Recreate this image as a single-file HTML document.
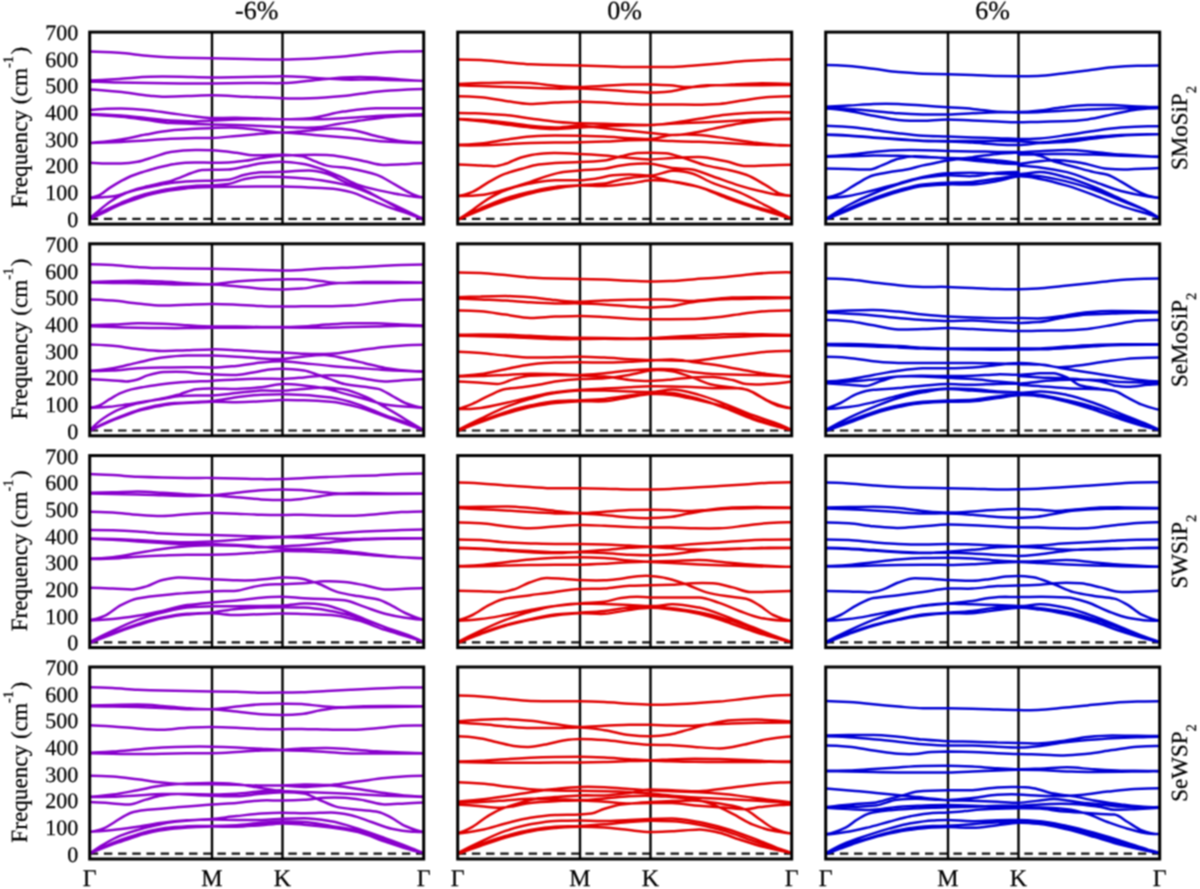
<!DOCTYPE html>
<html><head><meta charset="utf-8"><style>
html,body{margin:0;padding:0;background:#fff;width:1200px;height:889px;overflow:hidden}
svg{display:block}
text{font-family:"Liberation Serif",serif;fill:#000;stroke:#000;stroke-width:0.25px;text-rendering:geometricPrecision}
</style></head><body>
<svg width="1200" height="889" viewBox="0 0 1200 889">
<defs><filter id="bl" x="0" y="0" width="1200" height="889" filterUnits="userSpaceOnUse" color-interpolation-filters="sRGB"><feConvolveMatrix order="3" kernelMatrix="1 2 1 2 4 2 1 2 1" divisor="16" edgeMode="duplicate"/></filter><clipPath id="k00"><rect x="89.7" y="32.1" width="334.0" height="192.0"/></clipPath><clipPath id="k01"><rect x="457.7" y="32.1" width="334.0" height="192.0"/></clipPath><clipPath id="k02"><rect x="825.7" y="32.1" width="334.0" height="192.0"/></clipPath><clipPath id="k10"><rect x="89.7" y="243.8" width="334.0" height="192.0"/></clipPath><clipPath id="k11"><rect x="457.7" y="243.8" width="334.0" height="192.0"/></clipPath><clipPath id="k12"><rect x="825.7" y="243.8" width="334.0" height="192.0"/></clipPath><clipPath id="k20"><rect x="89.7" y="455.6" width="334.0" height="192.0"/></clipPath><clipPath id="k21"><rect x="457.7" y="455.6" width="334.0" height="192.0"/></clipPath><clipPath id="k22"><rect x="825.7" y="455.6" width="334.0" height="192.0"/></clipPath><clipPath id="k30"><rect x="89.7" y="667.0" width="334.0" height="192.0"/></clipPath><clipPath id="k31"><rect x="457.7" y="667.0" width="334.0" height="192.0"/></clipPath><clipPath id="k32"><rect x="825.7" y="667.0" width="334.0" height="192.0"/></clipPath></defs>
<g filter="url(#bl)"><rect width="1200" height="889" fill="#fff"/>
<line x1="89.7" y1="218.8" x2="423.7" y2="218.8" stroke="#111" stroke-width="2.2" stroke-dasharray="8.44 5.75"/>
<line x1="212.0" y1="32.1" x2="212.0" y2="224.1" stroke="#000" stroke-width="2.4"/>
<line x1="282.5" y1="32.1" x2="282.5" y2="224.1" stroke="#000" stroke-width="2.4"/>
<g clip-path="url(#k00)" fill="none" stroke="#8800cc" stroke-width="2.5" stroke-linejoin="round" stroke-linecap="round"><path d="M89.8 51.4C99.5 51.5 109.2 52.0 118.9 52.7C129.2 53.4 139.4 55.2 149.7 56.0C160.0 56.8 170.3 57.6 180.6 57.8C191.0 58.0 201.5 58.0 211.9 58.2C223.5 58.5 235.1 58.9 246.7 59.1C258.7 59.3 270.6 59.5 282.5 59.5C291.7 59.5 300.9 59.1 310.1 58.7C321.1 58.2 332.1 57.3 343.1 56.5C354.2 55.6 365.2 54.0 376.2 53.1C384.3 52.5 392.4 51.9 400.5 51.6C408.2 51.4 415.9 51.1 423.6 51.2M89.8 80.5C99.5 80.1 109.2 79.5 118.9 78.9C129.2 78.3 139.4 76.9 149.7 76.7C160.0 76.5 170.3 76.6 180.6 76.7C191.0 76.9 201.5 77.4 211.9 77.4C223.5 77.4 235.1 77.1 246.7 77.0C258.7 76.8 270.6 76.4 282.5 76.3C291.7 76.2 300.9 76.9 310.1 77.4C321.1 78.0 332.1 79.4 343.1 79.6C354.2 79.9 365.2 79.4 376.2 79.6C384.3 79.8 392.4 80.1 400.5 80.3C408.2 80.4 415.9 80.6 423.6 80.7M89.8 81.4C99.5 81.8 109.2 82.3 118.9 82.5C129.2 82.7 139.4 82.8 149.7 82.9C160.0 83.1 170.3 83.3 180.6 83.4C191.0 83.4 201.5 83.4 211.9 83.4C223.5 83.3 235.1 83.0 246.7 82.9C258.7 82.8 270.6 83.3 282.5 83.1C291.7 83.0 300.9 81.6 310.1 80.7C321.1 79.7 332.1 78.0 343.1 77.4C354.2 76.8 365.2 76.8 376.2 77.4C384.3 77.8 392.4 79.0 400.5 79.6C408.2 80.2 415.9 80.8 423.6 81.1M89.8 89.5C99.5 89.9 109.2 90.8 118.9 91.7C129.2 92.7 139.4 94.7 149.7 95.7C154.9 96.2 160.0 96.9 165.2 96.8C172.5 96.7 179.9 96.4 187.2 96.1C195.4 95.9 203.7 95.2 211.9 95.3C223.5 95.3 235.1 96.3 246.7 96.8C258.7 97.3 270.6 98.0 282.5 98.3C291.7 98.6 300.9 98.5 310.1 98.3C321.1 98.1 332.1 97.2 343.1 96.1C354.2 95.1 365.2 92.8 376.2 91.7C384.3 91.0 392.4 90.3 400.5 90.0C408.2 89.6 415.9 89.2 423.6 89.1M89.7 109.9C100.1 109.1 110.6 108.5 121.0 108.5C129.3 108.6 137.5 109.1 145.8 109.9C154.0 110.6 162.3 112.1 170.5 113.2C178.8 114.3 187.0 115.5 195.3 116.5C200.8 117.1 206.4 118.0 211.9 118.1C220.1 118.2 228.3 117.6 236.5 117.8C244.8 117.9 253.0 118.2 261.3 118.4C268.4 118.7 275.4 119.1 282.5 119.3C291.7 119.5 300.9 118.9 310.1 118.2C321.1 117.3 332.1 113.1 343.1 111.6C354.2 110.1 365.2 108.3 376.2 108.3C384.3 108.3 392.4 108.3 400.5 108.3C408.2 108.3 415.9 108.3 423.6 108.3M89.7 114.0C100.1 114.2 110.6 114.9 121.0 115.6C129.3 116.2 137.5 117.3 145.8 118.1C154.0 118.9 162.3 120.0 170.5 120.6C178.8 121.1 187.0 121.6 195.3 121.4C200.8 121.3 206.4 120.8 211.9 120.6C220.1 120.2 228.3 119.5 236.5 119.4C244.8 119.3 253.0 119.3 261.3 119.3C268.4 119.3 275.4 119.3 282.5 119.3C291.7 119.3 300.9 119.3 310.1 119.3C321.1 119.3 332.1 118.7 343.1 118.2C354.2 117.7 365.2 116.6 376.2 116.0C384.3 115.5 392.4 115.2 400.5 114.9C408.2 114.6 415.9 114.3 423.6 114.2M89.7 114.8C100.1 115.1 110.6 115.9 121.0 116.8C129.3 117.5 137.5 118.7 145.8 119.8C154.0 120.8 162.3 122.6 170.5 123.1C178.8 123.5 187.0 123.6 195.3 123.9C200.8 124.0 206.4 124.2 211.9 124.4C220.1 124.6 228.3 124.8 236.5 125.0C244.8 125.3 253.0 125.7 261.3 126.0C268.4 126.3 275.4 126.8 282.5 127.1C293.2 127.5 303.8 127.9 314.5 127.5C322.8 127.2 331.1 125.0 339.4 123.7C347.8 122.5 356.1 121.1 364.4 120.0C372.7 118.8 381.0 117.5 389.4 116.9C400.8 116.1 412.2 115.6 423.6 115.6M89.7 142.9C100.1 142.4 110.6 141.1 121.0 139.6C129.3 138.4 137.5 136.1 145.8 134.6C154.0 133.1 162.3 131.2 170.5 130.5C178.8 129.7 187.0 129.3 195.3 128.8C200.8 128.5 206.4 128.2 211.9 128.0C220.1 127.7 228.3 127.4 236.5 127.7C244.8 127.9 253.0 129.6 261.3 130.5C268.4 131.2 275.4 132.4 282.5 132.5C289.0 132.6 295.5 131.8 302.0 131.2C310.3 130.6 318.6 129.3 326.9 128.7C335.3 128.2 343.6 128.9 351.9 130.0C360.2 131.0 368.6 134.4 376.9 136.2C385.2 138.1 393.5 140.3 401.9 141.2C409.1 142.0 416.3 142.5 423.6 142.5M89.7 142.9C100.1 142.8 110.6 142.5 121.0 142.0C129.3 141.7 137.5 140.9 145.8 140.4C154.0 139.8 162.3 139.1 170.5 138.7C178.8 138.3 187.0 138.1 195.3 137.9C200.8 137.8 206.4 138.1 211.9 137.9C220.1 137.7 228.3 136.6 236.5 135.9C244.8 135.2 253.0 134.4 261.3 133.8C268.4 133.2 275.4 132.4 282.5 132.5C293.2 132.6 303.8 134.1 314.5 135.0C326.9 136.0 339.4 137.0 351.9 138.1C364.4 139.2 376.9 141.1 389.4 141.8C400.8 142.5 412.2 143.1 423.6 143.1M89.7 162.7C100.1 163.4 110.6 163.7 121.0 163.5C126.5 163.4 132.0 162.8 137.5 161.8C143.0 160.9 148.5 158.5 154.0 156.9C159.5 155.2 165.0 152.7 170.5 151.9C178.8 150.7 187.0 150.0 195.3 150.0C200.8 149.9 206.4 150.0 211.9 150.3C220.1 150.7 228.3 151.8 236.5 152.8C242.0 153.4 247.5 154.9 253.0 155.2C262.9 155.7 272.7 154.6 282.5 154.7C289.0 154.8 295.5 155.2 302.0 156.2C306.1 156.8 310.3 159.6 314.5 161.2C318.6 162.7 322.8 164.7 326.9 165.6C335.3 167.4 343.6 167.2 351.9 168.7C360.2 170.2 368.6 172.0 376.9 174.9C383.1 177.1 389.4 181.6 395.6 184.9C401.9 188.3 408.1 192.5 414.3 194.9C417.4 196.1 420.5 197.1 423.6 197.4M89.7 197.7C92.8 197.7 95.8 196.8 98.8 195.5C102.4 194.0 106.1 190.2 109.7 187.9C113.3 185.6 116.9 183.4 120.5 181.4C124.1 179.5 127.7 177.5 131.3 176.0C134.9 174.5 138.6 173.4 142.2 172.2C145.8 171.1 149.4 169.9 153.0 169.0C156.6 168.0 160.2 167.1 163.8 166.3C167.5 165.5 171.1 164.6 174.7 164.1C178.3 163.5 181.9 163.0 185.5 162.8C189.1 162.6 192.7 162.4 196.3 162.5C201.5 162.5 206.8 162.7 212.0 162.7C217.4 162.8 222.8 162.6 228.3 162.4C233.8 162.3 239.3 161.5 244.8 160.8C250.3 160.1 255.8 158.7 261.3 158.0C268.4 157.0 275.4 156.0 282.5 155.6C289.0 155.3 295.5 155.1 302.0 155.0C310.3 154.8 318.6 154.8 326.9 155.0C333.2 155.1 339.4 156.4 345.7 157.5C351.9 158.5 358.2 159.9 364.4 161.2C370.6 162.4 376.9 164.8 383.1 164.9C389.4 165.1 395.6 164.6 401.9 164.3C409.1 163.9 416.3 163.6 423.6 163.1M89.7 198.2C94.6 197.9 99.4 197.5 104.3 197.1C107.9 196.8 111.5 196.6 115.1 196.0C118.7 195.5 122.3 194.0 125.9 192.8C129.5 191.6 133.1 190.1 136.8 189.0C140.4 188.0 144.0 187.2 147.6 186.3C151.2 185.4 154.8 184.4 158.4 183.6C162.0 182.8 165.6 182.4 169.3 181.4C172.9 180.5 176.5 179.0 180.1 177.6C183.7 176.3 187.3 174.6 190.9 173.3C194.5 172.0 198.1 170.3 201.8 170.0C205.2 169.8 208.6 169.7 212.0 169.7C217.4 169.6 222.8 169.7 228.3 169.5C233.8 169.3 239.3 167.6 244.8 166.6C250.3 165.5 255.8 164.0 261.3 163.3C268.4 162.3 275.4 161.7 282.5 161.7C289.0 161.7 295.5 162.7 302.0 163.7C308.2 164.6 314.5 166.7 320.7 168.7C326.9 170.7 333.2 173.5 339.4 176.2C345.7 178.9 351.9 182.8 358.2 184.9C364.4 187.1 370.6 188.6 376.9 189.9C383.1 191.3 389.4 192.5 395.6 193.7C401.9 194.8 408.1 196.1 414.3 196.8C417.4 197.1 420.5 197.4 423.6 197.4M89.7 218.3C92.8 215.7 95.8 213.1 98.8 210.7C102.4 207.7 106.1 204.5 109.7 202.0C113.3 199.5 116.9 197.2 120.5 195.5C124.1 193.8 127.7 192.2 131.3 191.2C134.9 190.1 138.6 189.2 142.2 188.5C145.8 187.7 149.4 187.0 153.0 186.3C156.6 185.6 160.2 184.8 163.8 184.1C167.5 183.5 171.1 182.9 174.7 182.5C178.3 182.1 181.9 181.7 185.5 181.4C189.1 181.2 192.7 181.0 196.3 180.9C201.5 180.7 206.8 180.8 212.0 180.7C217.4 180.6 222.8 180.3 228.3 179.8C233.8 179.2 239.3 175.9 244.8 174.8C250.3 173.7 255.8 172.6 261.3 172.3C268.4 172.0 275.4 171.9 282.5 171.7C291.1 171.3 299.7 170.8 308.2 170.6C314.5 170.4 320.7 172.0 326.9 173.7C333.2 175.4 339.4 179.7 345.7 182.4C351.9 185.1 358.2 187.0 364.4 189.9C370.6 192.8 376.9 196.6 383.1 199.9C389.4 203.2 395.6 207.0 401.9 209.9C409.1 213.3 416.3 216.3 423.6 218.6M89.7 218.8C94.6 215.9 99.4 213.1 104.3 210.7C109.7 207.9 115.1 205.4 120.5 203.1C125.9 200.8 131.3 198.3 136.8 196.6C142.2 194.9 147.6 193.5 153.0 192.3C158.4 191.0 163.8 189.8 169.3 189.0C174.7 188.2 180.1 187.4 185.5 186.8C189.1 186.4 192.7 186.0 196.3 185.8C201.5 185.4 206.8 185.6 212.0 185.4C217.4 185.1 222.8 184.7 228.3 183.9C233.8 183.1 239.3 180.0 244.8 178.9C250.3 177.9 255.8 176.9 261.3 176.8C268.4 176.6 275.4 176.7 282.5 176.9C291.1 177.3 299.7 177.9 308.2 178.7C314.5 179.2 320.7 180.2 326.9 181.2C333.2 182.1 339.4 183.4 345.7 184.9C351.9 186.4 358.2 188.7 364.4 191.2C370.6 193.6 376.9 197.0 383.1 199.9C389.4 202.8 395.6 205.7 401.9 208.6C409.1 212.1 416.3 215.6 423.6 219.3M89.7 219.3C94.6 216.9 99.4 214.6 104.3 212.3C109.7 209.7 115.1 206.9 120.5 204.7C125.9 202.5 131.3 200.5 136.8 198.8C142.2 197.0 147.6 195.2 153.0 193.9C158.4 192.6 163.8 191.5 169.3 190.6C174.7 189.8 180.1 189.1 185.5 188.5C189.1 188.1 192.7 187.5 196.3 187.4C201.5 187.2 206.8 187.1 212.0 187.0C220.1 186.9 228.3 186.8 236.5 186.7C251.9 186.5 267.2 186.5 282.5 186.6C291.1 186.6 299.7 187.1 308.2 187.4C316.5 187.7 324.9 188.1 333.2 188.7C339.4 189.1 345.7 190.7 351.9 192.4C358.2 194.2 364.4 197.4 370.6 199.9C376.9 202.4 383.1 205.1 389.4 207.4C395.6 209.7 401.9 211.4 408.1 213.6C413.3 215.5 418.4 217.6 423.6 219.9"/></g>
<rect x="89.7" y="32.1" width="334.0" height="192.0" fill="none" stroke="#000" stroke-width="3.0"/>
<line x1="457.7" y1="218.8" x2="791.7" y2="218.8" stroke="#111" stroke-width="2.2" stroke-dasharray="8.44 5.75"/>
<line x1="580.0" y1="32.1" x2="580.0" y2="224.1" stroke="#000" stroke-width="2.4"/>
<line x1="650.5" y1="32.1" x2="650.5" y2="224.1" stroke="#000" stroke-width="2.4"/>
<g clip-path="url(#k01)" fill="none" stroke="#e00000" stroke-width="2.5" stroke-linejoin="round" stroke-linecap="round"><path d="M457.7 59.4C465.4 59.4 473.1 59.6 480.8 60.0C489.0 60.5 497.3 61.5 505.5 62.2C513.8 62.9 522.0 63.9 530.3 64.3C538.5 64.7 546.8 65.0 555.0 65.1C563.3 65.3 571.6 65.3 579.9 65.5C588.1 65.7 596.3 66.0 604.5 66.3C612.8 66.6 621.0 67.1 629.3 67.1C636.3 67.1 643.4 67.1 650.5 67.1C657.0 67.0 663.4 67.0 669.8 67.0C678.1 67.0 686.4 66.0 694.7 65.4C702.9 64.8 711.2 64.2 719.5 63.5C727.8 62.8 736.1 61.6 744.3 61.0C752.6 60.5 760.9 60.1 769.2 59.8C776.7 59.6 784.1 59.3 791.6 59.2M457.7 84.1C465.4 83.7 473.1 83.4 480.8 83.1C489.0 82.9 497.3 82.6 505.5 82.5C513.8 82.4 522.0 82.7 530.3 83.1C538.5 83.5 546.8 85.2 555.0 85.8C563.3 86.4 571.6 87.1 579.9 86.9C588.1 86.8 596.3 86.2 604.5 85.8C612.8 85.4 621.0 84.6 629.3 84.5C636.3 84.3 643.4 84.4 650.5 84.5C657.0 84.7 663.4 84.9 669.8 85.3C676.0 85.6 682.2 87.2 688.5 87.1C694.7 87.1 700.9 86.3 707.1 85.9C715.4 85.4 723.6 84.8 731.9 84.4C740.2 84.0 748.5 83.5 756.7 83.4C768.4 83.2 780.0 83.6 791.6 84.0M457.7 85.3C465.4 85.6 473.1 85.8 480.8 86.1C489.0 86.4 497.3 86.7 505.5 86.9C513.8 87.2 522.0 87.5 530.3 87.8C538.5 88.0 546.8 88.4 555.0 88.6C563.3 88.8 571.6 88.4 579.9 88.6C588.1 88.7 596.3 89.3 604.5 89.7C612.8 90.2 621.0 90.9 629.3 91.4C636.3 91.8 643.4 92.3 650.5 92.5C657.0 92.7 663.4 92.1 669.8 91.5C676.0 90.8 682.2 88.7 688.5 87.7C694.7 86.7 700.9 85.3 707.1 85.3C715.4 85.3 723.6 85.3 731.9 85.3C740.2 85.3 748.5 85.3 756.7 85.3C768.4 85.3 780.0 85.0 791.6 84.9M457.7 96.3C465.4 96.3 473.1 96.7 480.8 97.3C489.0 98.0 497.3 99.8 505.5 101.0C513.8 102.1 522.0 104.0 530.3 103.9C538.5 103.9 546.8 102.9 555.0 102.6C563.3 102.3 571.6 101.8 579.9 101.8C588.1 101.8 596.3 102.2 604.5 102.6C612.8 103.0 621.0 103.6 629.3 103.9C636.3 104.2 643.4 104.5 650.5 104.5C657.0 104.6 663.4 104.5 669.8 104.5C678.1 104.5 686.4 104.7 694.7 104.7C702.9 104.8 711.2 104.4 719.5 103.9C727.8 103.3 736.1 101.3 744.3 100.2C752.6 99.0 760.9 97.6 769.2 97.0C776.7 96.5 784.1 96.2 791.6 96.2M457.7 112.9C465.4 112.9 473.1 113.2 480.8 113.4C489.0 113.7 497.3 114.3 505.5 115.1C513.8 115.8 522.0 117.3 530.3 118.4C538.5 119.5 546.8 120.9 555.0 121.7C563.3 122.4 571.6 123.1 579.9 123.3C588.1 123.5 596.3 123.6 604.5 123.8C612.8 124.0 621.0 124.3 629.3 124.5C636.3 124.7 643.4 124.9 650.5 124.9C657.7 125.0 664.8 123.8 672.0 122.9C681.0 121.8 690.0 120.2 699.0 118.8C708.0 117.5 717.0 115.7 726.0 114.8C735.0 113.8 744.0 113.0 753.0 112.7C765.9 112.4 778.8 112.2 791.7 112.5M457.7 119.2C465.4 119.6 473.1 120.4 480.8 121.2C489.0 122.1 497.3 123.4 505.5 124.5C513.8 125.5 522.0 126.7 530.3 127.5C538.5 128.2 546.8 129.3 555.0 129.1C563.3 128.9 571.6 127.9 579.9 127.5C588.1 127.0 596.3 126.5 604.5 126.1C612.8 125.8 621.0 125.5 629.3 125.3C636.3 125.1 643.4 125.2 650.5 124.9C662.2 124.6 673.8 123.4 685.5 122.9C694.5 122.5 703.5 122.3 712.5 121.9C721.5 121.5 730.5 121.0 739.5 120.6C748.5 120.1 757.5 119.5 766.5 119.2C774.9 119.0 783.3 118.8 791.7 118.8M457.7 118.9C465.4 119.0 473.1 119.5 480.8 120.0C489.0 120.6 497.3 121.6 505.5 122.5C513.8 123.4 522.0 125.0 530.3 125.8C538.5 126.6 546.8 127.4 555.0 127.5C563.3 127.5 571.6 125.6 579.9 125.8C588.1 126.0 596.3 127.5 604.5 128.3C612.8 129.1 621.0 129.9 629.3 130.8C636.3 131.5 643.4 132.2 650.5 132.9C657.7 133.6 664.8 134.7 672.0 135.0C678.7 135.3 685.5 134.0 692.2 133.0C699.0 132.0 705.7 130.3 712.5 128.9C721.5 127.1 730.5 125.0 739.5 123.5C748.5 122.1 757.5 120.8 766.5 120.2C774.9 119.6 783.3 119.1 791.7 119.1M457.7 144.8C465.4 144.8 473.1 144.3 480.8 143.6C489.0 142.9 497.3 141.0 505.5 139.8C513.8 138.6 522.0 137.1 530.3 136.5C538.5 135.9 546.8 135.4 555.0 135.4C563.3 135.4 571.6 135.5 579.9 135.7C588.1 135.9 596.3 136.2 604.5 136.5C612.8 136.9 621.0 137.7 629.3 138.2C636.3 138.6 643.4 139.0 650.5 138.9C657.7 138.7 664.8 135.5 672.0 135.0C681.0 134.4 690.0 134.3 699.0 135.0C708.0 135.7 717.0 137.2 726.0 138.4C735.0 139.6 744.0 141.3 753.0 142.4C762.0 143.5 771.0 144.7 780.0 145.1C783.9 145.3 787.8 145.5 791.7 145.4M457.7 145.3C465.4 145.4 473.1 145.4 480.8 145.3C489.0 145.1 497.3 144.6 505.5 144.3C513.8 143.9 522.0 143.4 530.3 143.1C538.5 142.9 546.8 142.8 555.0 142.6C563.3 142.5 571.6 142.5 579.9 142.3C588.1 142.1 596.3 141.8 604.5 141.5C612.8 141.2 621.0 140.6 629.3 140.3C636.3 140.1 643.4 140.0 650.5 140.1C657.7 140.3 664.8 140.8 672.0 141.1C681.0 141.4 690.0 141.4 699.0 141.8C708.0 142.1 717.0 142.7 726.0 143.1C735.0 143.6 744.0 144.1 753.0 144.5C762.0 144.8 771.0 145.2 780.0 145.4C783.9 145.5 787.8 145.5 791.7 145.5M457.7 195.9C462.6 195.5 467.6 193.8 472.5 191.8C478.0 189.6 483.5 184.9 489.0 181.9C494.5 178.9 500.0 175.7 505.5 173.7C511.0 171.6 516.5 170.2 522.0 168.7C527.5 167.2 533.0 165.4 538.5 164.6C544.0 163.8 549.5 163.2 555.0 162.9C563.3 162.5 571.6 162.5 579.9 162.1C588.1 161.8 596.3 161.4 604.5 160.5C610.0 159.8 615.5 157.6 621.0 156.3C626.5 155.1 632.0 153.3 637.5 153.0C641.8 152.8 646.2 152.7 650.5 152.7C655.4 152.7 660.3 152.9 665.2 153.2C672.0 153.7 678.7 156.6 685.5 158.6C692.2 160.7 699.0 163.6 705.7 165.4C712.5 167.1 719.2 167.9 726.0 169.4C732.7 171.0 739.5 172.5 746.2 174.8C753.0 177.2 759.7 181.8 766.5 185.6C771.0 188.2 775.5 192.1 780.0 193.7C783.9 195.1 787.8 195.9 791.7 195.8M457.7 164.6C465.4 164.7 473.1 165.1 480.8 165.4C485.2 165.6 489.6 166.1 494.0 166.2C497.8 166.3 501.7 164.9 505.5 163.8C511.0 162.1 516.5 158.6 522.0 157.2C527.5 155.7 533.0 154.3 538.5 153.9C544.0 153.4 549.5 152.9 555.0 153.0C563.3 153.1 571.6 153.5 579.9 153.9C588.1 154.2 596.3 154.8 604.5 155.5C610.0 155.9 615.5 156.7 621.0 157.2C630.8 158.0 640.7 159.5 650.5 159.4C657.7 159.4 664.8 158.4 672.0 158.0C681.0 157.5 690.0 156.9 699.0 157.0C708.0 157.1 717.0 159.6 726.0 161.3C732.7 162.6 739.5 166.1 746.2 166.1C753.0 166.1 759.7 165.6 766.5 165.4C774.9 165.2 783.3 164.9 791.7 164.7M457.7 195.9C465.4 196.2 473.1 195.9 480.8 195.1C486.3 194.6 491.8 193.2 497.3 191.8C502.8 190.4 508.3 188.5 513.8 186.9C519.3 185.2 524.8 183.7 530.3 181.9C535.8 180.1 541.3 177.8 546.8 176.1C552.3 174.5 557.8 172.7 563.3 172.0C568.8 171.3 574.4 170.8 579.9 170.4C588.1 169.7 596.3 169.6 604.5 168.7C610.0 168.1 615.5 166.1 621.0 165.4C626.5 164.7 632.0 164.1 637.5 163.8C641.8 163.5 646.2 163.4 650.5 163.7C657.7 164.2 664.8 167.0 672.0 168.1C678.7 169.1 685.5 168.2 692.2 169.4C699.0 170.7 705.7 173.9 712.5 176.2C721.5 179.3 730.5 182.9 739.5 185.6C746.2 187.7 753.0 189.5 759.7 191.0C766.5 192.6 773.2 194.4 780.0 195.1C783.9 195.5 787.8 195.8 791.7 195.8M457.7 219.9C462.6 216.6 467.6 213.3 472.5 210.0C478.0 206.2 483.5 201.7 489.0 198.4C494.5 195.1 500.0 192.1 505.5 190.2C511.0 188.2 516.5 186.5 522.0 185.2C527.5 183.9 533.0 182.6 538.5 181.9C544.0 181.2 549.5 180.5 555.0 180.3C563.3 179.9 571.6 180.6 579.9 180.3C585.4 180.0 590.8 179.3 596.3 178.6C601.8 177.9 607.3 175.8 612.8 175.3C618.3 174.8 623.8 174.5 629.3 174.5C636.3 174.4 643.4 175.6 650.5 175.6C657.7 175.5 664.8 171.5 672.0 170.8C678.7 170.2 685.5 171.6 692.2 173.5C699.0 175.4 705.7 180.2 712.5 182.9C721.5 186.6 730.5 188.5 739.5 192.4C748.5 196.2 757.5 201.3 766.5 205.9C774.9 210.1 783.3 214.4 791.7 218.7M457.7 219.9C465.4 215.7 473.1 211.7 480.8 208.3C489.0 204.7 497.3 201.0 505.5 198.4C513.8 195.8 522.0 193.7 530.3 191.8C538.5 189.9 546.8 187.6 555.0 186.9C563.3 186.1 571.6 185.8 579.9 185.2C588.1 184.7 596.3 184.4 604.5 183.6C610.0 183.0 615.5 180.5 621.0 179.4C626.5 178.4 632.0 177.5 637.5 177.0C641.8 176.5 646.2 176.0 650.5 176.4C657.7 177.0 664.8 180.0 672.0 181.6C681.0 183.6 690.0 184.6 699.0 187.0C708.0 189.4 717.0 193.3 726.0 196.4C735.0 199.6 744.0 202.9 753.0 205.9C762.0 208.8 771.0 210.9 780.0 214.0C783.9 215.3 787.8 217.0 791.7 218.7M457.7 219.9C465.4 216.3 473.1 213.0 480.8 210.0C489.0 206.7 497.3 203.6 505.5 200.9C513.8 198.2 522.0 195.4 530.3 193.5C538.5 191.5 546.8 189.7 555.0 188.5C563.3 187.3 571.6 185.8 579.9 185.5C588.1 185.2 596.3 186.4 604.5 186.0C612.8 185.7 621.0 184.5 629.3 183.6C636.3 182.7 643.4 180.8 650.5 180.3C657.7 179.8 664.8 180.8 672.0 181.6C681.0 182.5 690.0 184.5 699.0 187.0C708.0 189.5 717.0 194.4 726.0 197.8C735.0 201.1 744.0 204.3 753.0 207.2C762.0 210.1 771.0 212.7 780.0 215.3C783.9 216.5 787.8 217.6 791.7 218.7"/></g>
<rect x="457.7" y="32.1" width="334.0" height="192.0" fill="none" stroke="#000" stroke-width="3.0"/>
<line x1="825.7" y1="218.8" x2="1159.7" y2="218.8" stroke="#111" stroke-width="2.2" stroke-dasharray="8.44 5.75"/>
<line x1="948.0" y1="32.1" x2="948.0" y2="224.1" stroke="#000" stroke-width="2.4"/>
<line x1="1018.5" y1="32.1" x2="1018.5" y2="224.1" stroke="#000" stroke-width="2.4"/>
<g clip-path="url(#k02)" fill="none" stroke="#0000d4" stroke-width="2.5" stroke-linejoin="round" stroke-linecap="round"><path d="M825.7 156.8C833.4 156.7 841.1 156.5 848.8 156.3C857.0 156.1 865.3 155.6 873.5 155.5C881.8 155.4 890.0 155.6 898.3 155.8C906.5 156.1 914.8 156.8 923.0 157.2C931.3 157.5 939.6 157.7 947.9 158.0C956.1 158.2 964.3 158.2 972.5 158.5C980.8 158.7 989.0 159.7 997.3 160.5C1004.3 161.1 1011.4 162.0 1018.5 162.9M825.7 219.0C833.4 213.9 841.1 209.0 848.8 205.0C857.0 200.7 865.3 196.8 873.5 193.5C881.8 190.1 890.0 186.9 898.3 184.4C906.5 181.8 914.8 179.0 923.0 177.8C931.3 176.6 939.6 175.4 947.9 175.3C956.1 175.2 964.3 176.5 972.5 176.1C980.8 175.7 989.0 173.4 997.3 172.8C1004.3 172.3 1011.4 172.0 1018.5 172.0M1018.5 154.6C1025.7 154.5 1032.8 154.4 1040.0 154.3C1049.0 154.2 1058.0 154.0 1067.0 153.9C1076.0 153.9 1085.0 154.3 1094.0 154.6C1103.0 154.9 1112.0 155.3 1121.0 155.7C1130.0 156.0 1139.0 156.3 1148.0 156.6C1151.9 156.7 1155.8 156.9 1159.7 157.0M1018.5 165.4C1025.7 165.7 1032.8 166.6 1040.0 167.4C1049.0 168.4 1058.0 170.0 1067.0 172.1C1076.0 174.3 1085.0 178.4 1094.0 181.6C1103.0 184.7 1112.0 188.7 1121.0 191.0C1130.0 193.4 1139.0 195.2 1148.0 196.4C1151.9 197.0 1155.8 197.6 1159.7 197.8M825.7 65.0C833.4 65.0 841.1 65.4 848.8 66.0C857.0 66.5 865.3 67.8 873.5 68.8C881.8 69.8 890.0 71.3 898.3 72.1C906.5 72.8 914.8 73.5 923.0 73.7C931.3 73.9 939.6 74.0 947.9 74.2C956.1 74.4 964.3 74.6 972.5 74.9C980.8 75.1 989.0 75.7 997.3 75.9C1004.3 76.0 1011.4 76.1 1018.5 76.2C1025.0 76.2 1031.4 76.1 1037.8 75.9C1046.1 75.7 1054.4 74.4 1062.7 73.5C1070.9 72.5 1079.2 71.4 1087.5 70.4C1095.8 69.3 1104.1 68.0 1112.3 67.2C1120.6 66.5 1128.9 66.0 1137.2 65.8C1144.7 65.6 1152.1 65.4 1159.6 65.4M825.7 106.7C833.4 106.4 841.1 106.0 848.8 105.6C857.0 105.1 865.3 104.2 873.5 103.9C881.8 103.6 890.0 103.6 898.3 103.9C906.5 104.2 914.8 105.0 923.0 105.6C931.3 106.1 939.6 106.7 947.9 107.2C956.1 107.8 964.3 108.2 972.5 108.9C980.8 109.5 989.0 111.2 997.3 111.7C1004.3 112.1 1011.4 112.3 1018.5 112.1C1025.0 111.9 1031.4 111.4 1037.8 110.7C1046.1 109.9 1054.4 108.1 1062.7 107.2C1070.9 106.3 1079.2 105.3 1087.5 105.1C1095.8 104.9 1104.1 104.8 1112.3 105.1C1120.6 105.4 1128.9 106.1 1137.2 106.4C1144.7 106.6 1152.1 106.9 1159.6 107.0M825.7 107.6C833.4 107.9 841.1 108.4 848.8 108.9C857.0 109.4 865.3 110.1 873.5 110.9C881.8 111.6 890.0 112.8 898.3 113.3C906.5 113.9 914.8 114.3 923.0 114.5C931.3 114.6 939.6 114.7 947.9 114.5C956.1 114.3 964.3 113.7 972.5 113.3C980.8 112.9 989.0 112.3 997.3 112.2C1004.3 112.1 1011.4 112.5 1018.5 112.5C1025.0 112.5 1031.4 112.4 1037.8 112.2C1046.1 111.9 1054.4 111.2 1062.7 110.7C1070.9 110.3 1079.2 109.8 1087.5 109.5C1095.8 109.1 1104.1 108.7 1112.3 108.5C1120.6 108.3 1128.9 108.1 1137.2 108.0C1144.7 107.8 1152.1 107.7 1159.6 107.6M825.7 108.4C833.4 108.7 841.1 109.7 848.8 110.9C857.0 112.1 865.3 114.3 873.5 115.8C881.8 117.3 890.0 119.3 898.3 119.9C906.5 120.5 914.8 121.0 923.0 120.8C931.3 120.5 939.6 119.4 947.9 119.4C956.1 119.5 964.3 120.1 972.5 120.4C980.8 120.8 989.0 121.2 997.3 121.6C1004.3 121.9 1011.4 122.3 1018.5 122.3C1025.0 122.3 1031.4 122.0 1037.8 121.9C1046.1 121.7 1054.4 121.5 1062.7 121.3C1070.9 121.0 1079.2 120.4 1087.5 119.4C1095.8 118.4 1104.1 116.1 1112.3 114.4C1120.6 112.8 1128.9 110.5 1137.2 109.5C1144.7 108.6 1152.1 108.1 1159.6 108.2M825.7 125.8C833.4 126.0 841.1 126.5 848.8 127.1C857.0 127.8 865.3 128.9 873.5 129.9C881.8 130.9 890.0 132.3 898.3 133.2C906.5 134.2 914.8 135.3 923.0 135.7C931.3 136.1 939.6 136.2 947.9 136.5C956.1 136.8 964.3 137.1 972.5 137.4C980.8 137.6 989.0 137.9 997.3 138.2C1004.3 138.4 1011.4 138.8 1018.5 139.0C1025.7 139.2 1032.8 138.8 1040.0 138.4C1049.0 137.9 1058.0 136.3 1067.0 135.0C1076.0 133.8 1085.0 132.2 1094.0 131.0C1103.0 129.7 1112.0 128.3 1121.0 127.6C1130.0 126.9 1139.0 126.4 1148.0 126.2C1151.9 126.2 1155.8 126.2 1159.7 126.2M825.7 134.4C833.4 134.5 841.1 134.9 848.8 135.4C857.0 135.9 865.3 136.8 873.5 137.4C881.8 137.9 890.0 138.5 898.3 139.0C906.5 139.6 914.8 140.4 923.0 140.7C931.3 140.9 939.6 141.0 947.9 141.0C956.1 141.0 964.3 141.0 972.5 141.0C980.8 141.0 989.0 140.8 997.3 140.8C1004.3 140.8 1011.4 141.0 1018.5 141.2C1025.7 141.4 1032.8 142.5 1040.0 142.4C1049.0 142.3 1058.0 140.6 1067.0 139.7C1076.0 138.8 1085.0 137.8 1094.0 137.0C1103.0 136.3 1112.0 135.4 1121.0 135.0C1130.0 134.7 1139.0 134.4 1148.0 134.3C1151.9 134.3 1155.8 134.3 1159.7 134.3M825.7 134.7C833.4 134.9 841.1 135.2 848.8 135.7C857.0 136.2 865.3 137.1 873.5 137.7C881.8 138.3 890.0 138.9 898.3 139.5C906.5 140.0 914.8 140.7 923.0 141.0C931.3 141.3 939.6 141.2 947.9 141.5C956.1 141.7 964.3 142.2 972.5 142.6C980.8 143.1 989.0 144.0 997.3 144.4C1004.3 144.8 1011.4 145.2 1018.5 145.0C1025.7 144.8 1032.8 143.6 1040.0 143.1C1049.0 142.5 1058.0 142.5 1067.0 141.8C1076.0 141.0 1085.0 139.4 1094.0 138.4C1103.0 137.4 1112.0 136.2 1121.0 135.7C1130.0 135.2 1139.0 134.9 1148.0 134.6C1151.9 134.5 1155.8 134.4 1159.7 134.3M825.7 156.3C833.4 156.0 841.1 155.4 848.8 154.7C857.0 153.9 865.3 152.6 873.5 151.9C881.8 151.2 890.0 150.3 898.3 150.2C906.5 150.1 914.8 150.1 923.0 150.2C931.3 150.4 939.6 150.7 947.9 150.9C956.1 151.1 964.3 151.2 972.5 151.4C980.8 151.5 989.0 151.7 997.3 151.9C1004.3 152.0 1011.4 151.9 1018.5 152.0C1025.7 152.2 1032.8 154.1 1040.0 155.9C1044.5 157.1 1049.0 159.9 1053.5 161.3C1060.2 163.4 1067.0 164.9 1073.7 166.7C1080.5 168.5 1087.2 170.5 1094.0 172.1C1098.5 173.2 1103.0 173.5 1107.5 174.8C1112.0 176.2 1116.5 179.1 1121.0 181.6C1125.5 184.1 1130.0 187.3 1134.5 189.7C1139.0 192.0 1143.5 194.6 1148.0 195.8C1151.9 196.8 1155.8 197.7 1159.7 197.8M825.7 197.6C830.6 197.1 835.6 195.5 840.5 193.5C846.0 191.2 851.5 186.6 857.0 183.6C862.5 180.5 868.0 176.8 873.5 175.3C879.0 173.8 884.5 172.9 890.0 172.0C895.5 171.1 901.0 170.6 906.5 169.5C912.0 168.5 917.5 166.6 923.0 165.4C928.5 164.2 934.0 163.2 939.5 162.1C942.3 161.5 945.1 160.9 947.9 160.5C956.1 159.1 964.3 158.2 972.5 157.2C980.8 156.0 989.0 154.6 997.3 153.9C1004.3 153.2 1011.4 152.8 1018.5 152.4C1025.7 152.0 1032.8 151.6 1040.0 151.2C1049.0 150.7 1058.0 149.9 1067.0 149.9C1076.0 149.8 1085.0 151.1 1094.0 151.9C1103.0 152.7 1112.0 153.9 1121.0 154.6C1130.0 155.3 1139.0 155.8 1148.0 156.2C1151.9 156.4 1155.8 156.6 1159.7 156.6M825.7 168.4C833.4 168.6 841.1 168.8 848.8 169.0C855.9 169.2 863.1 169.5 870.2 169.5C874.1 169.5 877.9 166.9 881.8 165.4C887.3 163.3 892.8 160.1 898.3 158.8C903.8 157.5 909.3 156.2 914.8 156.3C920.3 156.4 925.8 156.8 931.3 157.2C936.8 157.6 942.4 158.0 947.9 158.5C956.1 159.1 964.3 159.7 972.5 160.5C980.8 161.2 989.0 162.3 997.3 162.9C1004.3 163.5 1011.4 164.2 1018.5 163.9C1023.4 163.7 1028.3 162.6 1033.2 162.0C1040.0 161.2 1046.7 160.2 1053.5 160.0C1062.5 159.7 1071.5 161.4 1080.5 162.7C1089.5 164.0 1098.5 168.1 1107.5 168.8C1114.2 169.3 1121.0 169.6 1127.7 169.4C1138.4 169.2 1149.1 168.7 1159.7 168.1M825.7 198.1C833.4 197.9 841.1 197.0 848.8 195.9C857.0 194.7 865.3 192.2 873.5 190.2C881.8 188.1 890.0 185.8 898.3 183.6C906.5 181.4 914.8 178.6 923.0 177.0C931.3 175.3 939.6 173.6 947.9 173.3C956.1 173.0 964.3 172.6 972.5 172.8C980.8 173.0 989.0 173.4 997.3 173.7C1004.3 173.8 1011.4 173.9 1018.5 174.0C1025.7 174.0 1032.8 172.3 1040.0 172.1C1049.0 172.0 1058.0 175.2 1067.0 177.5C1076.0 179.9 1085.0 183.4 1094.0 187.0C1103.0 190.6 1112.0 195.1 1121.0 199.1C1130.0 203.2 1139.0 206.8 1148.0 211.3C1151.9 213.2 1155.8 215.6 1159.7 218.0M825.7 219.0C833.4 215.2 841.1 211.6 848.8 208.3C857.0 204.8 865.3 201.4 873.5 198.4C881.8 195.4 890.0 192.4 898.3 190.2C906.5 187.9 914.8 185.2 923.0 184.4C931.3 183.6 939.6 183.1 947.9 182.7C956.1 182.4 964.3 182.5 972.5 181.9C980.8 181.3 989.0 179.7 997.3 178.6C1004.3 177.6 1011.4 176.1 1018.5 175.5C1025.7 174.9 1032.8 175.5 1040.0 176.2C1049.0 177.1 1058.0 179.4 1067.0 181.6C1076.0 183.7 1085.0 186.6 1094.0 189.7C1103.0 192.8 1112.0 196.9 1121.0 200.5C1130.0 204.1 1139.0 207.2 1148.0 211.3C1151.9 213.1 1155.8 215.5 1159.7 218.0M825.7 219.5C833.4 216.3 841.1 213.1 848.8 210.0C857.0 206.6 865.3 203.1 873.5 200.1C881.8 197.0 890.0 194.1 898.3 191.8C906.5 189.5 914.8 186.9 923.0 186.0C931.3 185.2 939.6 184.6 947.9 184.4C956.1 184.2 964.3 184.7 972.5 184.4C980.8 184.1 989.0 182.4 997.3 181.1C1004.3 179.9 1011.4 176.9 1018.5 176.4C1025.7 175.9 1032.8 177.6 1040.0 178.9C1049.0 180.5 1058.0 183.0 1067.0 185.6C1076.0 188.3 1085.0 191.7 1094.0 195.1C1103.0 198.4 1112.0 202.8 1121.0 205.9C1130.0 209.0 1139.0 211.1 1148.0 214.0C1151.9 215.2 1155.8 216.6 1159.7 218.0"/></g>
<rect x="825.7" y="32.1" width="334.0" height="192.0" fill="none" stroke="#000" stroke-width="3.0"/>
<line x1="89.7" y1="430.5" x2="423.7" y2="430.5" stroke="#111" stroke-width="2.2" stroke-dasharray="8.44 5.75"/>
<line x1="212.0" y1="243.8" x2="212.0" y2="435.9" stroke="#000" stroke-width="2.4"/>
<line x1="282.5" y1="243.8" x2="282.5" y2="435.9" stroke="#000" stroke-width="2.4"/>
<g clip-path="url(#k10)" fill="none" stroke="#8800cc" stroke-width="2.5" stroke-linejoin="round" stroke-linecap="round"><path d="M89.7 264.3C97.4 264.4 105.1 264.7 112.8 265.1C121.0 265.5 129.3 266.6 137.5 267.1C145.8 267.5 154.0 267.9 162.3 268.1C170.5 268.2 178.8 268.3 187.0 268.4C195.3 268.5 203.6 268.6 211.9 268.7C220.1 268.9 228.3 269.0 236.5 269.2C244.8 269.4 253.0 269.8 261.3 270.1C268.3 270.2 275.4 270.4 282.5 270.5C289.0 270.5 295.4 270.2 301.8 269.9C310.1 269.6 318.4 268.7 326.7 268.3C334.9 267.9 343.2 267.8 351.5 267.5C359.8 267.1 368.1 266.6 376.3 266.2C384.6 265.8 392.9 265.2 401.2 265.0C408.7 264.7 416.1 264.6 423.6 264.6M89.7 282.1C97.4 281.8 105.1 281.5 112.8 281.3C121.0 281.0 129.3 280.8 137.5 280.8C145.8 280.8 154.0 281.2 162.3 281.6C170.5 282.0 178.8 282.8 187.0 283.3C195.3 283.7 203.6 284.3 211.9 284.1C220.1 283.9 228.3 282.2 236.5 281.6C244.8 281.0 253.0 280.2 261.3 280.0C268.3 279.7 275.4 279.6 282.5 279.4C289.0 279.3 295.4 279.1 301.8 279.2C308.0 279.4 314.2 280.5 320.5 281.1C326.7 281.7 332.9 282.9 339.1 283.0C347.4 283.1 355.6 282.0 363.9 282.0C372.2 282.0 380.5 281.9 388.7 282.0C400.4 282.1 412.0 282.2 423.6 282.4M89.7 282.6C97.4 282.7 105.1 282.8 112.8 282.9C121.0 283.0 129.3 283.1 137.5 283.3C145.8 283.4 154.0 283.9 162.3 284.1C170.5 284.3 178.8 284.5 187.0 284.6C195.3 284.7 203.6 284.5 211.9 284.6C220.1 284.7 228.3 285.6 236.5 286.2C244.8 286.9 253.0 288.2 261.3 288.7C268.3 289.1 275.4 289.3 282.5 289.4C289.0 289.4 295.4 289.1 301.8 288.6C308.0 288.1 314.2 286.4 320.5 285.5C326.7 284.5 332.9 283.0 339.1 283.0C347.4 283.0 355.6 283.0 363.9 283.0C372.2 283.0 380.5 283.0 388.7 283.0C400.4 283.0 412.0 282.8 423.6 282.7M89.7 299.4C97.4 299.5 105.1 300.0 112.8 300.6C121.0 301.2 129.3 302.6 137.5 303.4C145.8 304.2 154.0 305.6 162.3 305.5C170.5 305.5 178.8 305.0 187.0 304.7C195.3 304.4 203.6 304.0 211.9 303.9C220.1 303.8 228.3 304.3 236.5 304.7C244.8 305.1 253.0 305.7 261.3 306.0C268.3 306.3 275.4 306.7 282.5 306.6C289.0 306.6 295.4 306.4 301.8 306.3C310.1 306.3 318.4 306.4 326.7 306.3C334.9 306.3 343.2 306.0 351.5 305.6C359.8 305.1 368.1 303.8 376.3 302.8C384.6 301.9 392.9 300.7 401.2 300.1C408.7 299.6 416.1 299.3 423.6 299.4M89.7 325.3C97.4 325.1 105.1 324.8 112.8 324.5C121.0 324.2 129.3 323.4 137.5 323.2C145.8 323.0 154.0 323.3 162.3 323.7C170.5 324.0 178.8 324.9 187.0 325.3C195.3 325.8 203.6 326.4 211.9 326.5C220.1 326.6 228.3 326.4 236.5 326.5C244.8 326.6 253.0 326.9 261.3 327.0C268.3 327.1 275.4 327.1 282.5 327.0C289.0 327.0 295.4 326.7 301.8 326.4C310.1 326.1 318.4 325.1 326.7 324.6C334.9 324.1 343.2 323.5 351.5 323.3C359.8 323.1 368.1 323.1 376.3 323.3C384.6 323.6 392.9 324.2 401.2 324.6C408.7 324.9 416.1 325.2 423.6 325.4M89.7 326.2C97.4 326.4 105.1 326.7 112.8 327.0C121.0 327.3 129.3 327.6 137.5 327.8C145.8 328.0 154.0 328.1 162.3 328.1C170.5 328.2 178.8 328.2 187.0 328.1C195.3 328.1 203.6 327.9 211.9 327.8C220.1 327.7 228.3 327.9 236.5 327.8C244.8 327.7 253.0 327.5 261.3 327.5C268.3 327.4 275.4 327.4 282.5 327.4C289.0 327.5 295.4 327.6 301.8 327.7C310.1 327.7 318.4 327.8 326.7 327.7C334.9 327.6 343.2 327.3 351.5 327.1C359.8 326.8 368.1 326.6 376.3 326.4C384.6 326.2 392.9 325.9 401.2 325.8C408.7 325.7 416.1 326.0 423.6 326.2M89.7 344.4C97.4 344.5 105.1 345.1 112.8 345.7C121.0 346.4 129.3 348.2 137.5 349.0C145.8 349.9 154.0 351.1 162.3 351.0C170.5 350.9 178.8 350.4 187.0 350.2C195.3 349.9 203.6 349.5 211.9 349.4C220.1 349.2 228.3 349.8 236.5 350.2C244.8 350.6 253.0 351.4 261.3 351.8C268.3 352.2 275.4 352.2 282.5 352.5C289.7 352.9 296.8 353.5 304.0 353.8C313.0 354.1 322.0 354.2 331.0 353.8C340.0 353.3 349.0 351.5 358.0 350.4C367.0 349.3 376.0 347.9 385.0 347.0C394.0 346.1 403.0 345.3 412.0 345.0C415.9 344.8 419.8 344.7 423.7 344.7M89.7 370.8C97.4 370.5 105.1 369.5 112.8 368.3C121.0 367.0 129.3 364.3 137.5 362.6C145.8 360.8 154.0 358.6 162.3 357.6C170.5 356.6 178.8 355.8 187.0 355.6C195.3 355.5 203.6 355.4 211.9 355.6C220.1 355.9 228.3 356.3 236.5 356.8C244.8 357.2 253.0 358.0 261.3 358.4C268.3 358.8 275.4 359.1 282.5 358.9C289.7 358.6 296.8 357.1 304.0 356.5C310.7 355.8 317.5 355.0 324.2 355.1C331.0 355.2 337.7 357.1 344.5 358.5C351.2 359.9 358.0 361.6 364.7 363.2C371.5 364.8 378.2 366.9 385.0 367.9C394.0 369.4 403.0 370.5 412.0 370.9C415.9 371.1 419.8 371.3 423.7 371.3M89.7 371.1C97.4 371.1 105.1 370.8 112.8 370.5C121.0 370.1 129.3 368.7 137.5 368.3C145.8 367.9 154.0 367.6 162.3 367.5C170.5 367.4 178.8 367.2 187.0 367.2C195.3 367.1 203.6 367.5 211.9 367.5C220.1 367.5 228.3 366.6 236.5 365.9C244.8 365.1 253.0 363.4 261.3 362.6C268.3 361.8 275.4 361.0 282.5 361.2C289.7 361.5 296.8 362.5 304.0 363.2C313.0 364.1 322.0 365.1 331.0 365.9C340.0 366.7 349.0 367.3 358.0 367.9C367.0 368.6 376.0 369.4 385.0 370.0C394.0 370.5 403.0 371.0 412.0 371.3C415.9 371.5 419.8 371.6 423.7 371.7M89.7 379.2C96.3 379.5 103.0 379.8 109.6 380.2C115.1 380.5 120.5 381.1 126.0 381.4C129.5 381.5 133.1 380.6 136.7 379.7C140.3 378.8 143.9 376.4 147.6 375.4C153.0 373.9 158.5 372.4 163.9 372.1C171.1 371.8 178.3 371.6 185.5 372.1C190.9 372.5 196.3 373.4 201.7 373.8C205.1 374.0 208.5 374.1 211.9 374.3C220.1 374.6 228.3 375.0 236.5 374.9C242.0 374.8 247.5 373.4 253.0 372.5C258.5 371.5 264.0 370.1 269.5 369.5C273.8 369.0 278.2 368.7 282.5 368.7C289.7 368.7 296.8 369.5 304.0 370.6C308.5 371.3 313.0 373.2 317.5 374.7C322.0 376.2 326.5 377.8 331.0 379.4C335.5 381.0 340.0 383.2 344.5 384.1C351.2 385.5 358.0 385.9 364.7 386.8C369.2 387.5 373.7 387.8 378.2 388.9C382.7 389.9 387.2 393.2 391.7 395.6C396.2 398.0 400.7 401.3 405.2 403.0C411.4 405.4 417.5 407.3 423.7 407.8M89.7 407.4C92.7 407.5 95.8 406.9 98.9 405.8C102.5 404.5 106.0 401.2 109.6 399.2C113.2 397.1 116.9 394.8 120.5 393.2C124.1 391.7 127.8 390.3 131.4 389.4C135.0 388.6 138.5 387.9 142.1 387.3C149.4 386.1 156.6 384.9 163.9 384.0C171.1 383.1 178.3 382.3 185.5 381.9C194.3 381.4 203.1 381.3 211.9 380.9C220.1 380.4 228.3 379.7 236.5 379.4C244.8 379.1 253.0 378.8 261.3 378.7C268.3 378.6 275.4 379.0 282.5 378.9C289.7 378.8 296.8 378.0 304.0 377.4C310.7 376.8 317.5 375.8 324.2 375.4C331.0 375.0 337.7 375.2 344.5 375.8C351.2 376.3 358.0 377.8 364.7 378.7C371.5 379.7 378.2 381.5 385.0 381.4C391.7 381.4 398.5 380.5 405.2 380.1C411.4 379.7 417.5 379.3 423.7 379.0M89.7 430.2C94.5 425.4 99.3 420.8 104.2 417.7C109.6 414.2 115.1 411.0 120.5 408.9C125.9 406.8 131.3 404.9 136.7 403.6C142.1 402.4 147.6 401.4 153.0 400.3C158.4 399.2 163.8 398.3 169.2 397.0C172.8 396.2 176.4 395.1 180.1 394.1C185.5 392.5 191.0 389.9 196.4 389.3C201.6 388.7 206.7 388.4 211.9 388.5C220.1 388.5 228.3 389.0 236.5 389.0C244.8 388.9 253.0 388.1 261.3 387.3C268.3 386.6 275.4 384.3 282.5 384.1C289.7 383.8 296.8 384.8 304.0 385.5C310.7 386.1 317.5 386.9 324.2 388.2C331.0 389.4 337.7 391.8 344.5 393.6C351.2 395.4 358.0 397.2 364.7 399.0C371.5 400.8 378.2 403.4 385.0 404.4C394.0 405.8 403.0 406.5 412.0 407.1C415.9 407.3 419.8 407.6 423.7 407.8M89.7 407.9C96.3 407.8 103.0 407.3 109.6 406.8C115.1 406.3 120.5 405.4 126.0 404.6C131.3 403.8 136.7 402.8 142.1 402.0C149.4 400.8 156.6 399.8 163.9 398.7C169.3 397.8 174.7 396.4 180.1 396.0C185.5 395.6 191.0 395.5 196.4 395.4C201.6 395.3 206.7 395.6 211.9 395.4C220.1 395.1 228.3 393.9 236.5 393.1C244.8 392.3 253.0 391.0 261.3 390.6C268.3 390.2 275.4 391.1 282.5 390.7C289.7 390.4 296.8 389.4 304.0 388.9C310.7 388.3 317.5 387.8 324.2 387.5C331.0 387.3 337.7 388.5 344.5 389.5C351.2 390.6 358.0 393.5 364.7 396.3C371.5 399.1 378.2 403.3 385.0 407.1C391.7 410.9 398.5 415.2 405.2 419.2C411.4 422.9 417.5 426.5 423.7 430.0M89.7 430.5C96.3 427.1 103.0 423.9 109.6 421.0C115.1 418.6 120.5 416.4 126.0 414.4C131.3 412.4 136.7 410.3 142.1 408.9C147.6 407.5 153.0 406.2 158.5 405.3C163.8 404.4 169.2 403.3 174.6 403.0C181.9 402.5 189.1 402.4 196.4 402.0C201.6 401.7 206.7 401.5 211.9 401.0C220.1 400.3 228.3 398.2 236.5 397.2C244.8 396.2 253.0 395.1 261.3 394.7C268.3 394.4 275.4 394.2 282.5 394.2C289.7 394.3 296.8 394.6 304.0 394.9C313.0 395.3 322.0 396.4 331.0 397.6C340.0 398.8 349.0 401.5 358.0 404.4C367.0 407.2 376.0 411.8 385.0 415.2C394.0 418.6 403.0 421.1 412.0 424.6C415.9 426.2 419.8 428.0 423.7 430.0M89.7 430.9C96.3 427.6 103.0 424.4 109.6 421.6C115.1 419.4 120.5 417.3 126.0 415.4C131.3 413.4 136.7 411.3 142.1 409.9C147.6 408.5 153.0 407.2 158.5 406.3C163.8 405.3 169.2 404.2 174.6 403.8C181.9 403.2 189.1 402.9 196.4 402.5C201.6 402.2 206.7 401.7 211.9 401.7C220.1 401.5 228.3 402.2 236.5 402.2C244.8 402.1 253.0 401.7 261.3 401.3C268.3 401.0 275.4 400.2 282.5 400.1C289.7 399.9 296.8 400.2 304.0 400.3C313.0 400.5 322.0 401.0 331.0 401.7C340.0 402.3 349.0 404.7 358.0 407.1C367.0 409.5 376.0 413.4 385.0 416.5C394.0 419.7 403.0 422.9 412.0 426.0C415.9 427.3 419.8 428.7 423.7 430.0"/></g>
<rect x="89.7" y="243.8" width="334.0" height="192.0" fill="none" stroke="#000" stroke-width="3.0"/>
<line x1="457.7" y1="430.5" x2="791.7" y2="430.5" stroke="#111" stroke-width="2.2" stroke-dasharray="8.44 5.75"/>
<line x1="580.0" y1="243.8" x2="580.0" y2="435.9" stroke="#000" stroke-width="2.4"/>
<line x1="650.5" y1="243.8" x2="650.5" y2="435.9" stroke="#000" stroke-width="2.4"/>
<g clip-path="url(#k11)" fill="none" stroke="#e00000" stroke-width="2.5" stroke-linejoin="round" stroke-linecap="round"><path d="M457.7 272.5C465.4 272.5 473.1 272.7 480.8 273.0C489.0 273.4 497.3 274.3 505.5 275.0C513.8 275.7 522.0 276.9 530.3 277.5C538.5 278.0 546.8 278.4 555.0 278.6C563.3 278.8 571.6 279.0 579.9 279.1C588.1 279.3 596.3 279.4 604.5 279.6C612.8 279.8 621.0 280.5 629.3 280.8C636.3 281.0 643.4 281.3 650.5 281.4C657.0 281.5 663.4 281.4 669.8 281.1C678.1 280.8 686.4 279.9 694.7 279.2C702.9 278.6 711.2 278.1 719.5 277.4C727.8 276.7 736.1 275.7 744.3 274.9C752.6 274.1 760.9 273.2 769.2 272.8C776.7 272.4 784.1 272.3 791.6 272.4M457.7 297.3C465.4 296.9 473.1 296.6 480.8 296.5C489.0 296.2 497.3 296.1 505.5 296.1C513.8 296.1 522.0 296.7 530.3 297.3C538.5 297.9 546.8 299.4 555.0 300.1C563.3 300.8 571.6 301.9 579.9 301.7C588.1 301.6 596.3 300.9 604.5 300.6C612.8 300.3 621.0 299.9 629.3 299.8C636.3 299.6 643.4 299.4 650.5 299.4C657.0 299.4 663.4 299.6 669.8 299.7C676.0 299.9 682.2 301.0 688.5 301.0C694.7 301.0 700.9 300.2 707.1 299.7C715.4 299.1 723.6 297.9 731.9 297.6C740.2 297.4 748.5 297.2 756.7 297.3C768.4 297.3 780.0 297.4 791.6 297.6M457.7 298.4C465.4 298.7 473.1 299.1 480.8 299.4C489.0 299.8 497.3 300.1 505.5 300.6C513.8 301.0 522.0 301.8 530.3 302.2C538.5 302.7 546.8 303.2 555.0 303.4C563.3 303.6 571.6 303.2 579.9 303.4C588.1 303.5 596.3 303.9 604.5 304.4C612.8 304.8 621.0 305.8 629.3 306.4C636.3 306.8 643.4 307.2 650.5 307.4C657.0 307.5 663.4 307.1 669.8 306.6C676.0 306.0 682.2 303.8 688.5 302.8C694.7 301.9 700.9 300.8 707.1 300.4C715.4 299.8 723.6 299.4 731.9 299.1C740.2 298.9 748.5 298.6 756.7 298.5C768.4 298.3 780.0 298.2 791.6 298.1M457.7 310.5C465.4 310.4 473.1 310.7 480.8 311.3C489.0 312.0 497.3 313.5 505.5 314.6C513.8 315.7 522.0 317.8 530.3 317.9C538.5 318.0 546.8 316.9 555.0 316.6C563.3 316.3 571.6 315.9 579.9 315.9C588.1 316.0 596.3 316.6 604.5 317.1C612.8 317.5 621.0 318.4 629.3 318.7C636.3 319.0 643.4 319.2 650.5 319.2C657.0 319.2 663.4 319.2 669.8 319.2C678.1 319.2 686.4 319.1 694.7 319.0C702.9 318.9 711.2 318.0 719.5 317.1C727.8 316.3 736.1 314.4 744.3 313.4C752.6 312.4 760.9 311.3 769.2 310.9C776.7 310.5 784.1 310.4 791.6 310.5M457.7 334.8C465.4 334.7 473.1 334.5 480.8 334.5C489.0 334.5 497.3 334.6 505.5 334.8C513.8 335.0 522.0 335.5 530.3 335.8C538.5 336.2 546.8 336.7 555.0 337.0C563.3 337.3 571.6 337.7 579.9 337.8C588.1 337.9 596.3 338.0 604.5 338.1C612.8 338.2 621.0 338.4 629.3 338.5C636.3 338.5 643.4 338.3 650.5 338.1C657.0 337.9 663.4 337.3 669.8 337.0C678.1 336.5 686.4 336.2 694.7 335.7C702.9 335.3 711.2 334.8 719.5 334.5C727.8 334.2 736.1 333.8 744.3 333.9C752.6 334.0 760.9 334.3 769.2 334.5C776.7 334.6 784.1 334.8 791.6 334.9M457.7 335.8C465.4 335.8 473.1 336.0 480.8 336.2C489.0 336.3 497.3 336.6 505.5 337.0C513.8 337.3 522.0 337.8 530.3 338.1C538.5 338.5 546.8 339.0 555.0 339.1C563.3 339.2 571.6 339.2 579.9 339.1C588.1 339.0 596.3 338.8 604.5 338.8C612.8 338.8 621.0 339.2 629.3 339.1C636.3 339.1 643.4 338.9 650.5 338.8C657.0 338.8 663.4 338.7 669.8 338.6C678.1 338.5 686.4 338.4 694.7 338.2C702.9 338.1 711.2 337.7 719.5 337.4C727.8 337.1 736.1 336.6 744.3 336.4C752.6 336.1 760.9 335.8 769.2 335.7C776.7 335.7 784.1 335.7 791.6 335.7M457.7 351.8C465.4 352.0 473.1 352.4 480.8 353.0C489.0 353.6 497.3 354.9 505.5 355.6C513.8 356.4 522.0 357.6 530.3 357.6C538.5 357.6 546.8 357.4 555.0 357.3C563.3 357.1 571.6 356.8 579.9 356.8C588.1 356.7 596.3 357.2 604.5 357.6C612.8 358.0 621.0 358.8 629.3 359.3C636.3 359.6 643.4 359.9 650.5 360.1C657.7 360.3 664.8 360.4 672.0 360.5C678.7 360.6 685.5 360.9 692.2 360.9C699.0 360.9 705.7 359.3 712.5 358.5C721.5 357.4 730.5 356.2 739.5 355.1C748.5 354.0 757.5 352.4 766.5 351.7C774.9 351.1 783.3 350.9 791.7 351.1M457.7 376.1C465.4 375.9 473.1 375.1 480.8 374.1C489.0 373.0 497.3 370.7 505.5 369.2C513.8 367.6 522.0 365.5 530.3 364.5C538.5 363.6 546.8 362.7 555.0 362.6C563.3 362.4 571.6 362.2 579.9 362.2C588.1 362.3 596.3 362.5 604.5 362.6C612.8 362.6 621.0 362.1 629.3 361.7C636.3 361.4 643.4 360.9 650.5 360.5C657.7 360.1 664.8 359.5 672.0 359.6C678.7 359.6 685.5 361.0 692.2 361.9C699.0 362.7 705.7 363.5 712.5 364.6C721.5 365.9 730.5 367.7 739.5 369.3C748.5 370.9 757.5 372.9 766.5 374.0C774.9 375.1 783.3 376.0 791.7 376.3M457.7 376.6C465.4 376.5 473.1 376.3 480.8 376.1C489.0 375.8 497.3 375.3 505.5 374.9C513.8 374.5 522.0 373.9 530.3 373.8C538.5 373.6 546.8 373.9 555.0 374.1C563.3 374.3 571.6 374.8 579.9 374.9C588.1 375.0 596.3 374.0 604.5 373.3C612.8 372.5 621.0 371.1 629.3 370.5C636.3 369.9 643.4 369.5 650.5 369.2C657.7 369.0 664.8 368.9 672.0 369.3C678.7 369.6 685.5 371.2 692.2 372.0C699.0 372.8 705.7 373.8 712.5 374.0C721.5 374.3 730.5 374.5 739.5 374.7C748.5 374.9 757.5 375.1 766.5 375.4C774.9 375.6 783.3 376.2 791.7 376.7M457.7 408.8C462.6 407.7 467.6 405.8 472.5 403.8C478.0 401.6 483.5 398.0 489.0 395.6C494.5 393.1 500.0 389.9 505.5 389.0C511.0 388.0 516.5 388.0 522.0 387.3C527.5 386.6 533.0 385.8 538.5 384.8C544.0 383.9 549.5 382.3 555.0 381.5C563.3 380.4 571.6 379.6 579.9 379.1C588.1 378.5 596.3 378.8 604.5 378.2C612.8 377.7 621.0 376.3 629.3 374.9C636.3 373.8 643.4 371.3 650.5 370.4C657.7 369.6 664.8 370.2 672.0 371.3C678.7 372.4 685.5 375.2 692.2 377.4C699.0 379.6 705.7 383.5 712.5 384.8C719.2 386.2 726.0 386.6 732.7 387.5C737.2 388.1 741.7 388.5 746.2 389.5C750.7 390.6 755.2 394.0 759.7 396.3C764.2 398.5 768.7 401.3 773.2 403.0C779.4 405.3 785.5 407.4 791.7 408.2M457.7 381.5C465.4 381.7 473.1 382.3 480.8 382.7C486.3 383.0 491.8 384.0 497.3 384.0C502.8 384.0 508.3 380.4 513.8 379.1C519.3 377.7 524.8 376.1 530.3 375.8C538.5 375.3 546.8 374.8 555.0 374.9C563.3 375.0 571.6 375.2 579.9 375.4C588.1 375.6 596.3 376.0 604.5 376.6C612.8 377.1 621.0 379.2 629.3 379.9C636.3 380.5 643.4 381.1 650.5 380.9C657.7 380.7 664.8 380.0 672.0 379.4C678.7 378.8 685.5 377.9 692.2 377.4C699.0 376.9 705.7 376.9 712.5 377.1C719.2 377.3 726.0 378.8 732.7 380.1C737.2 381.0 741.7 383.7 746.2 384.1C753.0 384.7 759.7 384.6 766.5 384.1C774.9 383.6 783.3 382.6 791.7 381.4M457.7 409.1C465.4 409.2 473.1 408.8 480.8 407.9C489.0 407.0 497.3 404.8 505.5 403.0C513.8 401.2 522.0 399.0 530.3 397.2C538.5 395.4 546.8 393.3 555.0 392.3C563.3 391.1 571.6 390.2 579.9 389.8C588.1 389.3 596.3 389.0 604.5 388.6C612.8 388.2 621.0 387.7 629.3 387.3C636.3 386.9 643.4 386.4 650.5 386.3C662.2 386.1 673.8 386.5 685.5 386.8C694.5 387.1 703.5 387.8 712.5 388.2C721.5 388.6 730.5 387.9 739.5 388.2C744.0 388.3 748.5 390.3 753.0 392.2C757.5 394.1 762.0 398.0 766.5 400.3C771.0 402.7 775.5 405.3 780.0 406.4C783.9 407.4 787.8 408.2 791.7 408.2M457.7 430.2C465.4 426.2 473.1 422.4 480.8 418.7C489.0 414.7 497.3 410.3 505.5 407.1C513.8 403.9 522.0 401.1 530.3 398.9C538.5 396.6 546.8 394.2 555.0 393.1C563.3 391.9 571.6 390.7 579.9 390.6C588.1 390.5 596.3 390.4 604.5 390.6C612.8 390.8 621.0 391.2 629.3 391.4C636.3 391.6 643.4 391.8 650.5 391.9C657.7 392.0 664.8 389.7 672.0 389.5C681.0 389.4 690.0 392.5 699.0 394.9C708.0 397.3 717.0 401.0 726.0 404.4C735.0 407.8 744.0 411.8 753.0 415.2C762.0 418.6 771.0 421.1 780.0 424.6C783.9 426.2 787.8 428.0 791.7 430.0M457.7 430.5C465.4 427.3 473.1 424.1 480.8 421.1C489.0 417.9 497.3 414.6 505.5 412.1C513.8 409.5 522.0 407.1 530.3 405.5C538.5 403.8 546.8 401.9 555.0 401.3C563.3 400.8 571.6 400.6 579.9 400.2C588.1 399.8 596.3 399.5 604.5 398.9C612.8 398.2 621.0 396.7 629.3 395.6C636.3 394.6 643.4 393.3 650.5 392.7C657.7 392.0 664.8 392.3 672.0 392.9C681.0 393.7 690.0 396.5 699.0 399.0C708.0 401.5 717.0 405.1 726.0 408.4C735.0 411.8 744.0 416.1 753.0 419.2C762.0 422.3 771.0 425.0 780.0 427.3C783.9 428.3 787.8 429.3 791.7 430.0M457.7 431.0C465.4 427.8 473.1 424.7 480.8 422.0C489.0 419.0 497.3 416.1 505.5 413.7C513.8 411.3 522.0 408.8 530.3 407.1C538.5 405.4 546.8 403.7 555.0 403.0C563.3 402.2 571.6 401.6 579.9 401.3C588.1 401.0 596.3 401.8 604.5 401.3C612.8 400.8 621.0 398.5 629.3 397.2C636.3 396.1 643.4 394.6 650.5 394.1C657.7 393.5 664.8 394.1 672.0 394.9C681.0 396.0 690.0 398.4 699.0 400.3C708.0 402.3 717.0 404.3 726.0 407.1C735.0 409.9 744.0 414.7 753.0 417.9C762.0 421.1 771.0 423.9 780.0 426.7C783.9 427.8 787.8 429.0 791.7 430.0"/></g>
<rect x="457.7" y="243.8" width="334.0" height="192.0" fill="none" stroke="#000" stroke-width="3.0"/>
<line x1="825.7" y1="430.5" x2="1159.7" y2="430.5" stroke="#111" stroke-width="2.2" stroke-dasharray="8.44 5.75"/>
<line x1="948.0" y1="243.8" x2="948.0" y2="435.9" stroke="#000" stroke-width="2.4"/>
<line x1="1018.5" y1="243.8" x2="1018.5" y2="435.9" stroke="#000" stroke-width="2.4"/>
<g clip-path="url(#k12)" fill="none" stroke="#0000d4" stroke-width="2.5" stroke-linejoin="round" stroke-linecap="round"><path d="M825.7 383.2C833.4 383.7 841.1 384.3 848.8 384.8C854.3 385.2 859.8 386.0 865.3 386.0C870.8 386.0 876.3 382.2 881.8 380.7C887.3 379.2 892.8 376.8 898.3 376.6C906.5 376.2 914.8 376.2 923.0 376.6C931.3 376.9 939.6 377.3 947.9 377.7C956.1 378.1 964.3 378.5 972.5 379.1C980.8 379.6 989.0 380.8 997.3 381.5C1004.3 382.1 1011.4 382.7 1018.5 383.2M825.7 409.1C833.4 408.9 841.1 408.0 848.8 407.1C857.0 406.1 865.3 404.1 873.5 402.2C881.8 400.2 890.0 397.5 898.3 395.6C906.5 393.6 914.8 391.5 923.0 390.6C931.3 389.6 939.6 388.8 947.9 388.6C956.1 388.5 964.3 388.5 972.5 389.0C980.8 389.4 989.0 390.9 997.3 391.4C1004.3 391.8 1011.4 392.2 1018.5 392.3M1018.5 376.0C1025.7 376.6 1032.8 377.1 1040.0 377.4C1046.7 377.7 1053.5 377.7 1060.2 378.1C1067.0 378.4 1073.7 379.0 1080.5 379.4C1087.2 379.8 1094.0 379.7 1100.7 380.1C1107.5 380.5 1114.2 381.8 1121.0 382.1C1130.0 382.5 1139.0 382.6 1148.0 382.5C1151.9 382.5 1155.8 382.3 1159.7 382.1M1018.5 384.8C1025.7 385.2 1032.8 385.7 1040.0 386.2C1049.0 386.8 1058.0 387.7 1067.0 388.2C1076.0 388.7 1085.0 388.6 1094.0 388.9C1100.7 389.1 1107.5 389.6 1114.2 390.9C1118.7 391.7 1123.2 395.4 1127.7 397.6C1132.2 399.9 1136.7 402.7 1141.2 404.4C1147.4 406.7 1153.5 408.9 1159.7 409.8M825.7 278.6C833.4 278.7 841.1 279.1 848.8 279.6C857.0 280.2 865.3 281.5 873.5 282.4C881.8 283.4 890.0 284.5 898.3 285.2C906.5 286.0 914.8 286.7 923.0 286.9C931.3 287.0 939.6 286.7 947.9 286.9C956.1 287.1 964.3 287.5 972.5 287.9C980.8 288.2 989.0 288.8 997.3 289.0C1004.3 289.2 1011.4 289.3 1018.5 289.2C1025.0 289.2 1031.4 288.9 1037.8 288.6C1046.1 288.1 1054.4 286.9 1062.7 286.1C1070.9 285.3 1079.2 284.5 1087.5 283.6C1095.8 282.7 1104.1 281.5 1112.3 280.7C1120.6 280.0 1128.9 279.3 1137.2 279.0C1144.7 278.8 1152.1 278.6 1159.6 278.6M825.7 311.6C833.4 311.2 841.1 310.8 848.8 310.5C857.0 310.2 865.3 309.9 873.5 310.0C881.8 310.0 890.0 310.9 898.3 311.6C906.5 312.4 914.8 313.8 923.0 314.6C931.3 315.4 939.6 316.2 947.9 316.6C956.1 317.0 964.3 317.3 972.5 317.6C980.8 317.8 989.0 318.2 997.3 318.2C1004.3 318.3 1011.4 318.1 1018.5 318.1C1025.0 318.1 1031.4 318.4 1037.8 318.4C1046.1 318.4 1054.4 316.9 1062.7 315.9C1070.9 314.9 1079.2 312.8 1087.5 312.2C1095.8 311.5 1104.1 310.8 1112.3 310.9C1120.6 311.0 1128.9 311.1 1137.2 311.3C1144.7 311.4 1152.1 311.6 1159.6 311.8M825.7 312.6C833.4 312.9 841.1 313.3 848.8 313.8C857.0 314.2 865.3 314.8 873.5 315.4C881.8 316.1 890.0 317.2 898.3 317.9C906.5 318.6 914.8 319.4 923.0 319.9C931.3 320.3 939.6 320.8 947.9 320.9C956.1 321.0 964.3 320.2 972.5 320.4C980.8 320.5 989.0 321.6 997.3 322.0C1004.3 322.4 1011.4 322.8 1018.5 322.9C1025.0 323.1 1031.4 322.6 1037.8 322.1C1046.1 321.4 1054.4 318.9 1062.7 317.7C1070.9 316.5 1079.2 315.2 1087.5 314.6C1095.8 314.1 1104.1 313.6 1112.3 313.4C1120.6 313.2 1128.9 312.9 1137.2 312.8C1144.7 312.7 1152.1 312.5 1159.6 312.5M825.7 319.9C833.4 319.9 841.1 320.4 848.8 321.2C857.0 322.0 865.3 324.0 873.5 325.3C881.8 326.7 890.0 329.2 898.3 329.5C906.5 329.7 914.8 329.4 923.0 329.1C931.3 328.8 939.6 328.1 947.9 328.1C956.1 328.1 964.3 328.8 972.5 329.1C980.8 329.5 989.0 329.9 997.3 330.3C1004.3 330.6 1011.4 331.1 1018.5 331.1C1025.0 331.1 1031.4 330.9 1037.8 330.8C1046.1 330.6 1054.4 330.6 1062.7 330.4C1070.9 330.3 1079.2 329.7 1087.5 328.9C1095.8 328.1 1104.1 326.3 1112.3 324.9C1120.6 323.6 1128.9 321.7 1137.2 320.8C1144.7 320.1 1152.1 319.8 1159.6 320.0M825.7 344.1C833.4 344.0 841.1 344.0 848.8 344.1C857.0 344.2 865.3 344.4 873.5 344.7C881.8 345.0 890.0 345.6 898.3 346.1C906.5 346.5 914.8 347.3 923.0 347.7C931.3 348.1 939.6 348.5 947.9 348.5C956.1 348.5 964.3 348.5 972.5 348.5C980.8 348.5 989.0 348.5 997.3 348.5C1004.3 348.5 1011.4 348.5 1018.5 348.4C1025.7 348.4 1032.8 348.4 1040.0 348.4C1049.0 348.3 1058.0 347.2 1067.0 346.6C1076.0 346.1 1085.0 345.3 1094.0 345.0C1103.0 344.7 1112.0 344.3 1121.0 344.3C1130.0 344.3 1139.0 344.3 1148.0 344.3C1151.9 344.3 1155.8 344.3 1159.7 344.3M825.7 345.2C833.4 345.4 841.1 345.5 848.8 345.7C857.0 345.9 865.3 346.1 873.5 346.4C881.8 346.6 890.0 347.0 898.3 347.4C906.5 347.7 914.8 348.3 923.0 348.5C931.3 348.8 939.6 348.9 947.9 349.0C956.1 349.1 964.3 349.2 972.5 349.4C980.8 349.5 989.0 349.7 997.3 349.7C1004.3 349.7 1011.4 349.6 1018.5 349.5C1025.7 349.4 1032.8 349.4 1040.0 349.3C1049.0 349.2 1058.0 348.5 1067.0 348.0C1076.0 347.5 1085.0 346.8 1094.0 346.3C1103.0 345.8 1112.0 345.2 1121.0 345.0C1130.0 344.8 1139.0 344.7 1148.0 344.7C1151.9 344.7 1155.8 344.7 1159.7 344.7M825.7 381.5C833.4 381.2 841.1 380.4 848.8 379.4C857.0 378.3 865.3 376.4 873.5 374.9C881.8 373.5 890.0 371.9 898.3 370.8C906.5 369.7 914.8 368.5 923.0 368.3C931.3 368.2 939.6 368.5 947.9 368.3C956.1 368.2 964.3 368.0 972.5 367.5C980.8 367.0 989.0 365.8 997.3 365.0C1004.3 364.3 1011.4 363.3 1018.5 363.0C1025.7 362.8 1032.8 363.9 1040.0 364.6C1046.7 365.2 1053.5 367.1 1060.2 367.3C1067.0 367.4 1073.7 366.1 1080.5 365.2C1089.5 364.1 1098.5 362.3 1107.5 361.2C1116.5 360.0 1125.5 358.7 1134.5 358.2C1142.9 357.7 1151.3 357.4 1159.7 357.4M825.7 356.8C833.4 356.8 841.1 357.3 848.8 357.9C857.0 358.6 865.3 360.5 873.5 361.2C881.8 362.0 890.0 362.9 898.3 362.9C906.5 362.9 914.8 362.9 923.0 362.9C931.3 362.9 939.6 362.9 947.9 362.9C956.1 362.9 964.3 362.9 972.5 362.9C980.8 362.9 989.0 363.2 997.3 363.4C1004.3 363.6 1011.4 363.8 1018.5 364.0C1025.7 364.3 1032.8 364.2 1040.0 364.6C1046.7 364.9 1053.5 366.8 1060.2 367.9C1067.0 369.1 1073.7 370.2 1080.5 371.3C1089.5 372.7 1098.5 374.0 1107.5 375.4C1116.5 376.7 1125.5 378.4 1134.5 379.4C1142.9 380.3 1151.3 381.2 1159.7 381.4M825.7 382.0C833.4 382.1 841.1 381.9 848.8 381.5C857.0 381.1 865.3 380.2 873.5 379.4C881.8 378.6 890.0 377.1 898.3 376.6C906.5 376.1 914.8 375.7 923.0 375.8C931.3 375.8 939.6 376.1 947.9 376.1C956.1 376.1 964.3 375.9 972.5 375.8C980.8 375.6 989.0 374.6 997.3 374.4C1004.3 374.2 1011.4 374.9 1018.5 374.7C1025.7 374.6 1032.8 373.7 1040.0 373.3C1044.5 373.1 1049.0 373.2 1053.5 373.3C1058.0 373.5 1062.5 375.6 1067.0 377.4C1071.5 379.2 1076.0 384.4 1080.5 385.5C1087.2 387.2 1094.0 387.8 1100.7 388.9C1105.2 389.6 1109.7 389.8 1114.2 390.9C1118.7 392.0 1123.2 395.4 1127.7 397.6C1132.2 399.9 1136.7 402.7 1141.2 404.4C1147.4 406.7 1153.5 408.9 1159.7 409.8M825.7 408.8C830.6 407.4 835.6 405.2 840.5 403.0C846.0 400.5 851.5 395.9 857.0 393.9C862.5 391.9 868.0 390.3 873.5 389.8C881.8 389.0 890.0 388.9 898.3 388.1C906.5 387.4 914.8 386.3 923.0 385.7C931.3 385.0 939.6 384.0 947.9 384.0C956.1 384.0 964.3 385.0 972.5 384.8C980.8 384.7 989.0 384.2 997.3 384.0C1004.3 383.8 1011.4 383.9 1018.5 383.7C1025.7 383.4 1032.8 382.0 1040.0 381.4C1046.7 380.9 1053.5 380.4 1060.2 380.1C1067.0 379.7 1073.7 379.5 1080.5 379.4C1087.2 379.3 1094.0 380.4 1100.7 381.4C1105.2 382.2 1109.7 384.7 1114.2 385.5C1118.7 386.2 1123.2 387.1 1127.7 386.8C1134.5 386.5 1141.2 385.4 1148.0 384.8C1151.9 384.5 1155.8 384.1 1159.7 383.9M825.7 430.2C833.4 425.7 841.1 421.5 848.8 417.8C857.0 413.9 865.3 410.4 873.5 407.1C881.8 403.8 890.0 400.4 898.3 398.0C906.5 395.7 914.8 393.6 923.0 392.3C931.3 390.9 939.6 388.7 947.9 389.0C956.1 389.2 964.3 390.1 972.5 390.6C980.8 391.2 989.0 391.9 997.3 392.3C1004.3 392.6 1011.4 392.7 1018.5 392.7C1025.7 392.6 1032.8 391.7 1040.0 391.6C1049.0 391.4 1058.0 393.3 1067.0 394.9C1076.0 396.6 1085.0 399.9 1094.0 403.0C1103.0 406.2 1112.0 410.2 1121.0 413.8C1130.0 417.4 1139.0 420.8 1148.0 424.6C1151.9 426.3 1155.8 428.1 1159.7 430.0M825.7 430.5C833.4 427.3 841.1 424.1 848.8 421.1C857.0 417.9 865.3 414.6 873.5 412.1C881.8 409.5 890.0 407.0 898.3 405.5C906.5 403.9 914.8 402.4 923.0 401.8C931.3 401.3 939.6 400.9 947.9 400.5C956.1 400.1 964.3 400.2 972.5 399.7C980.8 399.1 989.0 397.4 997.3 396.4C1004.3 395.5 1011.4 394.3 1018.5 393.9C1025.7 393.5 1032.8 394.1 1040.0 394.9C1049.0 395.9 1058.0 398.3 1067.0 400.3C1076.0 402.3 1085.0 404.4 1094.0 407.1C1103.0 409.7 1112.0 413.4 1121.0 416.5C1130.0 419.7 1139.0 422.9 1148.0 426.0C1151.9 427.3 1155.8 428.7 1159.7 430.0M825.7 431.0C833.4 428.3 841.1 425.6 848.8 422.8C857.0 419.8 865.3 416.3 873.5 413.7C881.8 411.1 890.0 408.8 898.3 407.1C906.5 405.4 914.8 403.5 923.0 403.0C931.3 402.4 939.6 402.1 947.9 401.8C956.1 401.6 964.3 401.8 972.5 401.3C980.8 400.9 989.0 399.1 997.3 398.0C1004.3 397.1 1011.4 395.7 1018.5 395.2C1025.7 394.6 1032.8 395.5 1040.0 396.3C1049.0 397.3 1058.0 399.5 1067.0 401.7C1076.0 403.9 1085.0 406.9 1094.0 409.8C1103.0 412.7 1112.0 416.3 1121.0 419.2C1130.0 422.1 1139.0 425.0 1148.0 427.3C1151.9 428.3 1155.8 429.3 1159.7 430.0"/></g>
<rect x="825.7" y="243.8" width="334.0" height="192.0" fill="none" stroke="#000" stroke-width="3.0"/>
<line x1="89.7" y1="642.3" x2="423.7" y2="642.3" stroke="#111" stroke-width="2.2" stroke-dasharray="8.44 5.75"/>
<line x1="212.0" y1="455.6" x2="212.0" y2="647.6" stroke="#000" stroke-width="2.4"/>
<line x1="282.5" y1="455.6" x2="282.5" y2="647.6" stroke="#000" stroke-width="2.4"/>
<g clip-path="url(#k20)" fill="none" stroke="#8800cc" stroke-width="2.5" stroke-linejoin="round" stroke-linecap="round"><path d="M89.7 474.1C97.4 474.3 105.1 474.7 112.8 475.1C121.0 475.5 129.3 476.5 137.5 476.8C145.8 477.1 154.0 477.3 162.3 477.4C170.5 477.6 178.8 477.8 187.0 477.9C195.3 478.0 203.6 477.8 211.9 477.9C220.1 478.0 228.3 478.2 236.5 478.4C244.8 478.6 253.0 479.0 261.3 479.1C268.3 479.2 275.4 479.1 282.5 479.0C289.0 478.8 295.4 478.5 301.8 478.2C310.1 477.8 318.4 477.3 326.7 477.0C334.9 476.6 343.2 476.4 351.5 476.1C359.8 475.8 368.1 475.7 376.3 475.4C384.6 475.0 392.9 474.4 401.2 474.1C408.7 473.9 416.1 473.7 423.6 473.6M89.7 492.8C97.4 492.6 105.1 492.5 112.8 492.3C121.0 492.1 129.3 491.7 137.5 491.6C145.8 491.6 154.0 492.3 162.3 492.8C170.5 493.2 178.8 494.0 187.0 494.4C195.3 494.9 203.6 495.5 211.9 495.3C220.1 495.0 228.3 493.6 236.5 492.8C244.8 491.9 253.0 490.8 261.3 490.3C268.3 489.9 275.4 489.7 282.5 489.6C289.0 489.6 295.4 489.7 301.8 490.0C308.0 490.3 314.2 491.3 320.5 491.9C326.7 492.4 332.9 493.4 339.1 493.5C347.4 493.5 355.6 493.0 363.9 493.1C372.2 493.2 380.5 493.4 388.7 493.5C400.4 493.6 412.0 493.6 423.6 493.5M89.7 493.6C97.4 493.7 105.1 493.8 112.8 493.9C121.0 494.1 129.3 494.2 137.5 494.4C145.8 494.6 154.0 495.0 162.3 495.3C170.5 495.5 178.8 495.9 187.0 496.1C195.3 496.2 203.6 495.5 211.9 495.6C220.1 495.7 228.3 496.6 236.5 497.2C244.8 497.9 253.0 498.9 261.3 499.4C268.3 499.8 275.4 500.1 282.5 500.1C289.0 500.1 295.4 499.5 301.8 498.9C308.0 498.4 314.2 497.0 320.5 496.2C326.7 495.4 332.9 494.0 339.1 494.0C347.4 494.0 355.6 494.0 363.9 494.0C372.2 494.0 380.5 494.0 388.7 494.0C400.4 494.0 412.0 493.8 423.6 493.7M89.7 511.8C97.4 511.8 105.1 512.2 112.8 512.6C121.0 513.0 129.3 514.2 137.5 514.7C145.8 515.3 154.0 516.0 162.3 515.9C170.5 515.7 178.8 514.7 187.0 514.2C195.3 513.8 203.6 513.1 211.9 513.1C220.1 513.1 228.3 513.4 236.5 513.7C244.8 514.0 253.0 514.6 261.3 514.7C268.3 514.9 275.4 514.9 282.5 514.9C289.0 515.0 295.4 514.8 301.8 514.8C310.1 514.9 318.4 515.3 326.7 515.5C334.9 515.6 343.2 515.9 351.5 515.8C359.8 515.8 368.1 514.8 376.3 514.2C384.6 513.6 392.9 512.5 401.2 512.1C408.7 511.7 416.1 511.4 423.6 511.4M89.7 529.9C97.4 529.9 105.1 530.0 112.8 530.2C121.0 530.5 129.3 531.0 137.5 531.6C145.8 532.1 154.0 533.1 162.3 533.5C170.5 534.0 178.8 534.3 187.0 534.5C195.3 534.7 203.6 534.6 211.9 534.9C220.1 535.1 228.3 535.4 236.5 535.7C244.8 536.0 253.0 536.3 261.3 536.5C268.3 536.7 275.4 536.7 282.5 536.7C289.0 536.7 295.4 536.3 301.8 535.9C310.1 535.5 318.4 534.7 326.7 534.1C334.9 533.5 343.2 532.7 351.5 532.2C359.8 531.7 368.1 531.3 376.3 531.0C384.6 530.6 392.9 530.2 401.2 530.0C408.7 529.8 416.1 529.6 423.6 529.5M89.7 538.5C97.4 538.5 105.1 538.7 112.8 539.0C121.0 539.2 129.3 539.7 137.5 540.1C145.8 540.5 154.0 541.1 162.3 541.5C170.5 541.8 178.8 542.2 187.0 542.3C195.3 542.3 203.6 541.9 211.9 541.5C220.1 541.0 228.3 540.3 236.5 539.8C244.8 539.2 253.0 538.6 261.3 538.2C268.3 537.8 275.4 537.3 282.5 537.3C289.0 537.2 295.4 537.3 301.8 537.4C310.1 537.7 318.4 538.2 326.7 538.4C334.9 538.7 343.2 539.1 351.5 539.1C359.8 539.0 368.1 538.5 376.3 538.4C384.6 538.3 392.9 538.2 401.2 538.2C408.7 538.2 416.1 538.2 423.6 538.2M89.7 558.4C97.4 558.4 105.1 558.0 112.8 557.2C121.0 556.4 129.3 554.5 137.5 553.1C145.8 551.7 154.0 550.1 162.3 549.0C170.5 547.8 178.8 546.7 187.0 546.2C195.3 545.7 203.6 545.2 211.9 545.2C220.1 545.2 228.3 545.4 236.5 545.7C244.8 546.0 253.0 547.4 261.3 547.3C268.3 547.3 275.4 546.6 282.5 546.2C289.0 545.9 295.4 545.7 301.8 545.3C310.1 544.7 318.4 543.7 326.7 542.8C330.8 542.3 334.9 541.5 339.1 541.2C347.4 540.4 355.6 539.7 363.9 539.4C372.2 539.1 380.5 538.8 388.7 538.7C400.4 538.5 412.0 538.4 423.6 538.4M89.7 538.8C97.4 539.0 105.1 539.4 112.8 539.8C121.0 540.2 129.3 540.9 137.5 541.5C145.8 542.0 154.0 542.6 162.3 543.1C170.5 543.6 178.8 544.3 187.0 544.4C195.3 544.6 203.6 543.8 211.9 543.9C220.1 544.1 228.3 544.6 236.5 545.1C244.8 545.5 253.0 546.1 261.3 546.7C268.3 547.3 275.4 548.7 282.5 548.8C289.7 548.9 296.8 548.9 304.0 548.9C310.7 548.9 317.5 548.9 324.2 548.9C331.0 548.9 337.7 550.2 344.5 550.9C353.5 551.9 362.5 553.3 371.5 554.3C380.5 555.3 389.5 556.4 398.5 557.0C406.9 557.6 415.3 558.2 423.7 558.3M89.7 558.9C97.4 558.9 105.1 558.7 112.8 558.4C121.0 558.1 129.3 557.2 137.5 556.7C145.8 556.3 154.0 555.9 162.3 555.6C170.5 555.3 178.8 554.9 187.0 554.8C195.3 554.6 203.6 554.9 211.9 554.8C220.1 554.6 228.3 554.3 236.5 553.9C244.8 553.5 253.0 552.8 261.3 552.3C268.3 551.8 275.4 551.1 282.5 551.0C289.7 550.9 296.8 551.1 304.0 551.3C313.0 551.6 322.0 551.9 331.0 552.3C340.0 552.7 349.0 553.4 358.0 554.0C367.0 554.7 376.0 555.7 385.0 556.3C394.0 556.9 403.0 557.2 412.0 557.7C415.9 557.9 419.8 558.1 423.7 558.3M89.7 587.8C97.4 587.8 105.1 588.2 112.8 588.4C119.1 588.6 125.4 589.2 131.7 589.4C136.7 589.5 141.6 587.8 146.6 586.4C151.5 585.0 156.5 581.5 161.4 580.3C167.2 578.9 173.0 577.4 178.8 577.5C184.3 577.6 189.8 577.9 195.3 578.2C200.8 578.5 206.4 578.9 211.9 579.2C220.1 579.6 228.3 580.1 236.5 580.3C242.0 580.5 247.5 580.5 253.0 580.3C258.5 580.1 264.0 579.2 269.5 578.7C273.8 578.3 278.2 577.8 282.5 577.5C287.4 577.2 292.3 577.5 297.2 577.9C304.0 578.4 310.7 581.0 317.5 583.3C324.2 585.6 331.0 590.3 337.7 592.1C344.5 593.9 351.2 594.9 358.0 596.1C364.7 597.4 371.5 597.9 378.2 599.5C382.7 600.6 387.2 603.3 391.7 605.6C396.2 607.8 400.7 611.0 405.2 613.0C411.4 615.8 417.5 618.3 423.7 619.8M89.7 619.9C94.6 619.6 99.6 617.9 104.5 615.8C110.0 613.5 115.5 607.8 121.0 605.1C126.5 602.3 132.0 599.5 137.5 598.5C145.8 597.0 154.0 595.9 162.3 595.2C170.5 594.4 178.8 593.6 187.0 593.0C195.3 592.4 203.6 591.9 211.9 591.4C220.1 590.9 228.3 591.3 236.5 590.7C242.0 590.3 247.5 587.9 253.0 586.9C258.5 585.9 264.0 584.7 269.5 584.5C273.8 584.3 278.2 584.4 282.5 584.2C289.7 584.0 296.8 583.7 304.0 583.3C310.7 582.9 317.5 581.6 324.2 581.3C331.0 580.9 337.7 581.3 344.5 582.0C351.2 582.6 358.0 584.1 364.7 585.3C371.5 586.6 378.2 589.4 385.0 589.4C391.7 589.4 398.5 589.0 405.2 588.7C411.4 588.5 417.5 588.3 423.7 588.0M89.7 620.4C97.4 620.3 105.1 619.7 112.8 619.1C121.0 618.4 129.3 617.1 137.5 615.8C145.8 614.5 154.0 612.6 162.3 610.9C170.5 609.1 178.8 606.2 187.0 605.1C195.3 603.9 203.6 603.3 211.9 602.6C220.1 601.9 228.3 601.4 236.5 600.6C244.8 599.8 253.0 598.3 261.3 597.7C268.3 597.1 275.4 596.6 282.5 596.8C289.7 597.0 296.8 597.8 304.0 598.2C310.7 598.5 317.5 598.8 324.2 599.1C331.0 599.4 337.7 599.6 344.5 600.2C351.2 600.8 358.0 604.7 364.7 606.9C371.5 609.2 378.2 612.0 385.0 613.7C391.7 615.4 398.5 616.8 405.2 617.7C411.4 618.6 417.5 619.5 423.7 619.8M89.7 642.2C97.4 638.1 105.1 634.2 112.8 630.7C121.0 626.8 129.3 622.8 137.5 619.9C145.8 617.0 154.0 614.4 162.3 612.5C170.5 610.6 178.8 608.2 187.0 607.6C195.3 606.9 203.6 606.3 211.9 606.2C220.1 606.2 228.3 606.3 236.5 606.2C244.8 606.1 253.0 606.0 261.3 605.9C268.3 605.8 275.4 605.6 282.5 605.4C289.7 605.2 296.8 603.9 304.0 603.6C310.7 603.2 317.5 604.0 324.2 604.9C331.0 605.8 337.7 608.6 344.5 611.0C351.2 613.4 358.0 616.4 364.7 619.1C371.5 621.8 378.2 624.5 385.0 627.2C391.7 629.9 398.5 632.7 405.2 635.3C411.4 637.6 417.5 639.9 423.7 642.0M89.7 642.5C97.4 639.3 105.1 636.1 112.8 633.1C121.0 629.9 129.3 626.6 137.5 624.1C145.8 621.5 154.0 619.0 162.3 617.5C170.5 615.9 178.8 614.5 187.0 613.8C195.3 613.1 203.6 613.3 211.9 612.5C220.1 611.7 228.3 609.5 236.5 608.9C244.8 608.2 253.0 607.7 261.3 607.6C268.3 607.4 275.4 607.3 282.5 607.2C289.7 607.2 296.8 607.4 304.0 607.6C313.0 607.9 322.0 609.5 331.0 611.0C340.0 612.5 349.0 615.1 358.0 617.7C367.0 620.4 376.0 624.0 385.0 627.2C394.0 630.3 403.0 633.1 412.0 636.6C415.9 638.2 419.8 640.0 423.7 642.0M89.7 643.0C97.4 639.8 105.1 636.8 112.8 634.0C121.0 630.9 129.3 628.0 137.5 625.4C145.8 622.8 154.0 619.9 162.3 618.3C170.5 616.6 178.8 615.1 187.0 614.5C195.3 613.9 203.6 613.1 211.9 613.3C220.1 613.5 228.3 615.1 236.5 615.0C244.8 614.9 253.0 614.4 261.3 614.2C268.3 613.9 275.4 613.6 282.5 613.5C289.7 613.4 296.8 613.8 304.0 614.0C313.0 614.2 322.0 614.5 331.0 615.0C340.0 615.5 349.0 618.1 358.0 620.4C367.0 622.8 376.0 627.0 385.0 629.9C394.0 632.8 403.0 635.1 412.0 638.0C415.9 639.2 419.8 640.6 423.7 642.0"/></g>
<rect x="89.7" y="455.6" width="334.0" height="192.0" fill="none" stroke="#000" stroke-width="3.0"/>
<line x1="457.7" y1="642.3" x2="791.7" y2="642.3" stroke="#111" stroke-width="2.2" stroke-dasharray="8.44 5.75"/>
<line x1="580.0" y1="455.6" x2="580.0" y2="647.6" stroke="#000" stroke-width="2.4"/>
<line x1="650.5" y1="455.6" x2="650.5" y2="647.6" stroke="#000" stroke-width="2.4"/>
<g clip-path="url(#k21)" fill="none" stroke="#e00000" stroke-width="2.5" stroke-linejoin="round" stroke-linecap="round"><path d="M457.7 482.4C465.4 482.5 473.1 482.9 480.8 483.4C489.0 483.9 497.3 484.8 505.5 485.4C513.8 485.9 522.0 486.5 530.3 487.0C538.5 487.5 546.8 488.2 555.0 488.3C563.3 488.4 571.6 488.2 579.9 488.3C588.1 488.4 596.3 488.5 604.5 488.7C612.8 488.8 621.0 489.4 629.3 489.5C636.3 489.6 643.4 489.5 650.5 489.4C657.0 489.4 663.4 489.2 669.8 489.0C678.1 488.7 686.4 488.0 694.7 487.5C702.9 487.0 711.2 486.6 719.5 486.0C727.8 485.5 736.1 485.0 744.3 484.4C752.6 483.9 760.9 483.1 769.2 482.8C776.7 482.5 784.1 482.3 791.6 482.3M457.7 507.1C465.4 507.0 473.1 506.9 480.8 506.8C489.0 506.7 497.3 506.5 505.5 506.5C513.8 506.4 522.0 507.4 530.3 508.1C538.5 508.8 546.8 510.1 555.0 510.9C563.3 511.8 571.6 513.1 579.9 513.1C588.1 513.0 596.3 512.3 604.5 511.8C612.8 511.2 621.0 510.4 629.3 510.1C636.3 509.8 643.4 509.7 650.5 509.7C657.0 509.7 663.4 509.9 669.8 510.1C676.0 510.3 682.2 511.1 688.5 511.1C694.7 511.2 700.9 510.4 707.1 509.9C715.4 509.2 723.6 507.6 731.9 507.4C740.2 507.2 748.5 507.1 756.7 507.1C768.4 507.2 780.0 507.4 791.6 507.6M457.7 508.1C465.4 508.5 473.1 508.9 480.8 509.3C489.0 509.7 497.3 510.0 505.5 510.4C513.8 510.9 522.0 511.6 530.3 512.1C538.5 512.6 546.8 513.1 555.0 513.4C563.3 513.7 571.6 513.2 579.9 513.4C588.1 513.6 596.3 514.4 604.5 515.1C612.8 515.7 621.0 517.0 629.3 517.5C636.3 518.0 643.4 518.2 650.5 518.1C657.0 518.1 663.4 517.7 669.8 517.1C676.0 516.5 682.2 514.7 688.5 513.6C694.7 512.5 700.9 511.2 707.1 510.5C715.4 509.6 723.6 508.9 731.9 508.6C740.2 508.4 748.5 508.1 756.7 508.0C768.4 507.9 780.0 507.9 791.6 508.0M457.7 522.5C465.4 522.4 473.1 522.8 480.8 523.3C489.0 523.9 497.3 525.4 505.5 526.3C513.8 527.1 522.0 528.4 530.3 528.3C538.5 528.1 546.8 527.1 555.0 526.6C563.3 526.0 571.6 525.0 579.9 525.0C588.1 524.9 596.3 525.4 604.5 525.8C612.8 526.1 621.0 526.7 629.3 526.9C636.3 527.2 643.4 527.4 650.5 527.5C657.0 527.5 663.4 527.4 669.8 527.5C678.1 527.6 686.4 528.1 694.7 528.3C702.9 528.4 711.2 528.5 719.5 528.3C727.8 528.0 736.1 526.7 744.3 525.8C752.6 524.9 760.9 523.5 769.2 522.9C776.7 522.4 784.1 522.2 791.6 522.3M457.7 539.5C465.4 539.5 473.1 539.8 480.8 540.1C489.0 540.5 497.3 541.8 505.5 542.3C513.8 542.8 522.0 543.2 530.3 543.4C538.5 543.6 546.8 543.9 555.0 543.9C563.3 544.0 571.6 543.9 579.9 543.9C588.1 544.0 596.3 544.2 604.5 544.4C612.8 544.7 621.0 545.2 629.3 545.6C636.3 545.9 643.4 546.3 650.5 546.5C657.0 546.6 663.4 546.2 669.8 545.9C678.1 545.5 686.4 544.6 694.7 544.0C702.9 543.4 711.2 543.0 719.5 542.4C727.8 541.8 736.1 541.1 744.3 540.7C752.6 540.2 760.9 539.8 769.2 539.7C776.7 539.5 784.1 539.4 791.6 539.4M457.7 548.2C465.4 548.3 473.1 548.6 480.8 549.0C489.0 549.4 497.3 550.1 505.5 550.6C513.8 551.2 522.0 551.8 530.3 552.3C538.5 552.7 546.8 553.2 555.0 553.1C563.3 553.0 571.6 552.3 579.9 551.8C588.1 551.3 596.3 550.8 604.5 550.1C612.8 549.5 621.0 548.3 629.3 547.8C636.3 547.4 643.4 546.9 650.5 547.1C657.0 547.3 663.4 547.8 669.8 548.1C678.1 548.6 686.4 549.4 694.7 549.6C702.9 549.8 711.2 549.8 719.5 549.6C727.8 549.4 736.1 548.9 744.3 548.6C752.6 548.3 760.9 547.9 769.2 547.7C776.7 547.6 784.1 547.6 791.6 547.7M457.7 547.8C465.4 547.9 473.1 548.2 480.8 548.5C489.0 548.8 497.3 549.4 505.5 549.8C513.8 550.2 522.0 550.7 530.3 551.1C538.5 551.5 546.8 552.1 555.0 552.3C563.3 552.5 571.6 552.1 579.9 552.3C588.1 552.4 596.3 552.7 604.5 553.1C612.8 553.5 621.0 554.4 629.3 554.8C636.3 555.1 643.4 555.3 650.5 555.3C657.7 555.3 664.8 554.8 672.0 554.3C678.7 553.8 685.5 552.4 692.2 551.6C699.0 550.8 705.7 549.9 712.5 549.6C721.5 549.1 730.5 548.8 739.5 548.6C748.5 548.5 757.5 548.3 766.5 548.2C774.9 548.1 783.3 548.0 791.7 548.0M457.7 566.6C465.4 566.6 473.1 566.5 480.8 566.3C489.0 566.1 497.3 565.7 505.5 565.5C513.8 565.3 522.0 565.1 530.3 565.0C538.5 564.9 546.8 564.7 555.0 564.7C563.3 564.6 571.6 564.7 579.9 564.7C588.1 564.6 596.3 564.2 604.5 563.8C612.8 563.4 621.0 562.5 629.3 562.2C636.3 561.9 643.4 561.7 650.5 561.5C657.7 561.4 664.8 561.2 672.0 561.0C681.0 560.8 690.0 559.9 699.0 560.0C708.0 560.0 717.0 561.6 726.0 562.4C735.0 563.2 744.0 564.2 753.0 564.8C762.0 565.5 771.0 566.1 780.0 566.4C783.9 566.6 787.8 566.7 791.7 566.7M457.7 566.0C465.4 565.9 473.1 565.5 480.8 565.0C489.0 564.4 497.3 563.1 505.5 562.2C513.8 561.2 522.0 560.1 530.3 559.4C538.5 558.6 546.8 558.0 555.0 557.7C563.3 557.4 571.6 557.2 579.9 557.2C588.1 557.2 596.3 557.6 604.5 558.1C612.8 558.5 621.0 559.8 629.3 560.5C636.3 561.1 643.4 561.6 650.5 562.0C657.7 562.4 664.8 562.7 672.0 563.1C681.0 563.5 690.0 564.0 699.0 564.4C708.0 564.8 717.0 565.1 726.0 565.4C735.0 565.6 744.0 566.0 753.0 566.2C762.0 566.4 771.0 566.6 780.0 566.7C783.9 566.7 787.8 566.7 791.7 566.7M457.7 590.7C465.4 590.8 473.1 591.0 480.8 591.2C487.4 591.4 494.0 591.9 500.6 592.0C505.3 592.1 510.1 590.5 514.9 589.1C519.8 587.6 524.7 584.1 529.6 582.5C535.4 580.5 541.1 577.9 546.9 578.0C552.4 578.1 557.8 578.5 563.3 578.8C568.8 579.2 574.4 579.7 579.9 580.0C588.1 580.4 596.3 580.5 604.5 580.3C610.0 580.2 615.5 579.3 621.0 578.7C626.5 578.0 632.0 576.7 637.5 576.2C641.8 575.8 646.2 575.7 650.5 575.9C655.4 576.0 660.3 577.0 665.2 577.9C672.0 579.2 678.7 581.7 685.5 584.0C692.2 586.3 699.0 590.3 705.7 592.1C712.5 593.9 719.2 595.0 726.0 596.1C732.7 597.3 739.5 597.4 746.2 598.8C750.7 599.8 755.2 602.9 759.7 605.6C764.2 608.2 768.7 613.0 773.2 615.0C779.4 617.9 785.5 620.2 791.7 620.7M457.7 620.4C462.6 619.5 467.6 617.3 472.5 615.0C478.0 612.4 483.5 607.7 489.0 605.1C494.5 602.4 500.0 599.4 505.5 598.5C513.8 597.0 522.0 596.3 530.3 595.2C538.5 594.1 546.8 592.9 555.0 591.9C563.3 590.8 571.6 589.6 579.9 589.1C588.1 588.5 596.3 589.1 604.5 588.6C612.8 588.0 621.0 586.1 629.3 585.8C636.3 585.5 643.4 585.5 650.5 585.3C657.7 585.1 664.8 584.9 672.0 584.7C678.7 584.4 685.5 583.7 692.2 583.3C699.0 583.0 705.7 583.0 712.5 583.3C719.2 583.6 726.0 585.8 732.7 587.4C738.6 588.7 744.4 592.0 750.3 592.1C755.7 592.2 761.1 592.0 766.5 591.8C774.9 591.6 783.3 591.3 791.7 591.0M457.7 620.8C465.4 620.6 473.1 619.9 480.8 619.1C489.0 618.2 497.3 616.5 505.5 615.0C513.8 613.5 522.0 611.5 530.3 610.0C538.5 608.5 546.8 606.9 555.0 605.9C563.3 604.9 571.6 604.1 579.9 603.4C588.1 602.7 596.3 602.7 604.5 601.8C610.0 601.2 615.5 598.6 621.0 598.0C626.5 597.3 632.0 596.7 637.5 596.8C641.8 596.9 646.2 597.4 650.5 597.4C657.7 597.4 664.8 597.5 672.0 597.5C681.0 597.5 690.0 597.5 699.0 597.5C705.7 597.5 712.5 600.7 719.2 602.9C726.0 605.1 732.7 608.5 739.5 611.0C746.2 613.4 753.0 616.4 759.7 617.7C766.5 619.0 773.2 620.1 780.0 620.4C783.9 620.6 787.8 620.8 791.7 620.7M457.7 642.2C465.4 638.1 473.1 634.2 480.8 630.7C489.0 626.8 497.3 623.0 505.5 619.9C513.8 616.8 522.0 613.9 530.3 611.7C538.5 609.4 546.8 607.0 555.0 605.9C563.3 604.7 571.6 603.4 579.9 603.4C588.1 603.4 596.3 603.6 604.5 603.9C612.8 604.3 621.0 604.7 629.3 605.1C636.3 605.4 643.4 605.9 650.5 606.1C657.7 606.3 664.8 604.5 672.0 604.2C681.0 604.0 690.0 605.9 699.0 607.6C708.0 609.4 717.0 613.1 726.0 616.4C735.0 619.7 744.0 623.6 753.0 627.2C762.0 630.8 771.0 634.6 780.0 638.0C783.9 639.4 787.8 640.8 791.7 642.0M457.7 642.5C465.4 639.2 473.1 635.9 480.8 633.1C489.0 630.1 497.3 627.1 505.5 624.9C513.8 622.6 522.0 620.8 530.3 619.1C538.5 617.4 546.8 615.3 555.0 614.5C563.3 613.7 571.6 613.5 579.9 612.8C588.1 612.2 596.3 611.7 604.5 610.9C612.8 610.0 621.0 608.2 629.3 607.6C636.3 607.0 643.4 606.7 650.5 606.8C657.7 606.9 664.8 607.6 672.0 608.3C681.0 609.1 690.0 610.7 699.0 612.3C708.0 614.0 717.0 616.4 726.0 619.1C735.0 621.7 744.0 625.4 753.0 628.5C762.0 631.7 771.0 634.9 780.0 638.0C783.9 639.3 787.8 640.7 791.7 642.0M457.7 643.0C465.4 639.8 473.1 636.7 480.8 634.0C489.0 631.0 497.3 627.9 505.5 625.7C513.8 623.5 522.0 621.6 530.3 619.9C538.5 618.3 546.8 616.5 555.0 615.5C563.3 614.5 571.6 613.6 579.9 613.3C588.1 613.0 596.3 614.3 604.5 613.8C612.8 613.4 621.0 611.1 629.3 610.0C636.3 609.1 643.4 607.8 650.5 607.8C657.7 607.7 664.8 608.8 672.0 609.6C681.0 610.6 690.0 611.9 699.0 613.7C708.0 615.5 717.0 618.9 726.0 621.8C735.0 624.7 744.0 628.3 753.0 631.2C762.0 634.1 771.0 637.0 780.0 639.3C783.9 640.3 787.8 641.3 791.7 642.0"/></g>
<rect x="457.7" y="455.6" width="334.0" height="192.0" fill="none" stroke="#000" stroke-width="3.0"/>
<line x1="825.7" y1="642.3" x2="1159.7" y2="642.3" stroke="#111" stroke-width="2.2" stroke-dasharray="8.44 5.75"/>
<line x1="948.0" y1="455.6" x2="948.0" y2="647.6" stroke="#000" stroke-width="2.4"/>
<line x1="1018.5" y1="455.6" x2="1018.5" y2="647.6" stroke="#000" stroke-width="2.4"/>
<g clip-path="url(#k22)" fill="none" stroke="#0000d4" stroke-width="2.5" stroke-linejoin="round" stroke-linecap="round"><path d="M825.7 482.4C833.4 482.5 841.1 482.9 848.8 483.4C857.0 483.9 865.3 484.7 873.5 485.4C881.8 486.0 890.0 486.6 898.3 487.0C906.5 487.4 914.8 487.6 923.0 487.8C931.3 488.0 939.6 488.2 947.9 488.3C956.1 488.5 964.3 488.5 972.5 488.7C980.8 488.8 989.0 489.4 997.3 489.5C1004.3 489.5 1011.4 489.4 1018.5 489.2C1025.0 489.1 1031.4 489.0 1037.8 488.8C1046.1 488.5 1054.4 487.8 1062.7 487.3C1070.9 486.8 1079.2 486.2 1087.5 485.7C1095.8 485.1 1104.1 484.6 1112.3 484.0C1120.6 483.5 1128.9 482.8 1137.2 482.6C1144.7 482.3 1152.1 482.2 1159.6 482.3M825.7 507.6C833.4 507.4 841.1 507.3 848.8 507.1C857.0 507.0 865.3 506.8 873.5 506.8C881.8 506.8 890.0 507.5 898.3 508.1C906.5 508.8 914.8 510.2 923.0 510.9C931.3 511.7 939.6 512.6 947.9 512.6C956.1 512.5 964.3 511.9 972.5 511.4C980.8 510.9 989.0 510.2 997.3 509.8C1004.3 509.4 1011.4 509.1 1018.5 509.1C1025.0 509.1 1031.4 509.4 1037.8 509.6C1044.0 509.9 1050.2 510.9 1056.5 510.9C1062.7 510.9 1068.9 510.1 1075.1 509.6C1083.4 509.0 1091.6 507.9 1099.9 507.6C1108.2 507.4 1116.5 507.3 1124.7 507.4C1136.4 507.5 1148.0 507.7 1159.6 508.0M825.7 508.5C833.4 508.7 841.1 509.0 848.8 509.3C857.0 509.6 865.3 510.0 873.5 510.4C881.8 510.9 890.0 511.6 898.3 512.1C906.5 512.6 914.8 513.2 923.0 513.4C931.3 513.6 939.6 513.2 947.9 513.4C956.1 513.6 964.3 514.2 972.5 514.7C980.8 515.3 989.0 516.5 997.3 517.0C1004.3 517.5 1011.4 517.8 1018.5 517.8C1025.0 517.8 1031.4 517.3 1037.8 516.7C1044.0 516.1 1050.2 514.4 1056.5 513.4C1062.7 512.3 1068.9 511.1 1075.1 510.5C1083.4 509.7 1091.6 509.1 1099.9 508.9C1108.2 508.7 1116.5 508.4 1124.7 508.4C1136.4 508.3 1148.0 508.3 1159.6 508.4M825.7 522.5C833.4 522.4 841.1 522.8 848.8 523.3C857.0 523.9 865.3 525.5 873.5 526.3C881.8 527.0 890.0 528.1 898.3 527.9C906.5 527.7 914.8 526.8 923.0 526.3C931.3 525.7 939.6 524.8 947.9 524.6C956.1 524.5 964.3 524.9 972.5 525.3C980.8 525.6 989.0 526.2 997.3 526.6C1004.3 526.9 1011.4 527.3 1018.5 527.5C1025.0 527.6 1031.4 527.4 1037.8 527.5C1046.1 527.7 1054.4 528.1 1062.7 528.3C1070.9 528.4 1079.2 528.5 1087.5 528.3C1095.8 528.0 1104.1 526.3 1112.3 525.4C1120.6 524.5 1128.9 523.4 1137.2 522.9C1144.7 522.5 1152.1 522.2 1159.6 522.3M825.7 539.5C833.4 539.5 841.1 539.7 848.8 540.1C857.0 540.5 865.3 541.7 873.5 542.3C881.8 542.9 890.0 543.6 898.3 543.9C906.5 544.2 914.8 544.5 923.0 544.4C931.3 544.4 939.6 544.0 947.9 543.9C956.1 543.9 964.3 544.2 972.5 544.4C980.8 544.7 989.0 545.2 997.3 545.6C1004.3 545.9 1011.4 546.2 1018.5 546.3C1025.0 546.3 1031.4 546.0 1037.8 545.6C1046.1 545.2 1054.4 544.2 1062.7 543.6C1070.9 543.1 1079.2 542.7 1087.5 542.2C1095.8 541.7 1104.1 541.1 1112.3 540.7C1120.6 540.3 1128.9 539.8 1137.2 539.7C1144.7 539.5 1152.1 539.4 1159.6 539.4M825.7 548.2C833.4 548.3 841.1 548.6 848.8 549.0C857.0 549.4 865.3 550.1 873.5 550.6C881.8 551.2 890.0 551.8 898.3 552.3C906.5 552.7 914.8 553.2 923.0 553.1C931.3 553.0 939.6 552.3 947.9 551.8C956.1 551.2 964.3 550.5 972.5 549.8C980.8 549.1 989.0 547.8 997.3 547.3C1004.3 546.9 1011.4 546.5 1018.5 546.7C1025.0 546.9 1031.4 547.4 1037.8 547.7C1046.1 548.2 1054.4 549.1 1062.7 549.4C1070.9 549.6 1079.2 549.7 1087.5 549.6C1095.8 549.5 1104.1 549.2 1112.3 549.0C1120.6 548.7 1128.9 548.3 1137.2 548.1C1144.7 547.9 1152.1 547.8 1159.6 547.7M825.7 547.8C833.4 547.9 841.1 548.1 848.8 548.5C857.0 548.8 865.3 549.6 873.5 550.1C881.8 550.7 890.0 551.3 898.3 551.8C906.5 552.2 914.8 552.7 923.0 552.8C931.3 552.9 939.6 552.7 947.9 552.8C956.1 552.9 964.3 553.1 972.5 553.4C980.8 553.8 989.0 554.6 997.3 555.1C1004.3 555.5 1011.4 555.9 1018.5 555.9C1025.7 555.9 1032.8 555.0 1040.0 554.3C1046.7 553.6 1053.5 552.4 1060.2 551.6C1067.0 550.8 1073.7 549.9 1080.5 549.6C1089.5 549.1 1098.5 548.8 1107.5 548.6C1116.5 548.5 1125.5 548.3 1134.5 548.2C1142.9 548.1 1151.3 548.0 1159.7 548.0M825.7 566.0C833.4 565.9 841.1 565.5 848.8 565.0C857.0 564.4 865.3 563.1 873.5 562.2C881.8 561.2 890.0 560.0 898.3 559.4C906.5 558.7 914.8 558.2 923.0 558.1C931.3 557.9 939.6 557.7 947.9 557.7C956.1 557.7 964.3 558.0 972.5 558.4C980.8 558.8 989.0 560.0 997.3 560.5C1004.3 561.0 1011.4 561.5 1018.5 561.5C1025.7 561.5 1032.8 561.2 1040.0 561.0C1049.0 560.8 1058.0 559.9 1067.0 560.0C1076.0 560.0 1085.0 561.6 1094.0 562.4C1103.0 563.2 1112.0 564.2 1121.0 564.8C1130.0 565.4 1139.0 565.9 1148.0 566.2C1151.9 566.3 1155.8 566.4 1159.7 566.4M825.7 566.6C833.4 566.6 841.1 566.5 848.8 566.3C857.0 566.1 865.3 565.7 873.5 565.5C881.8 565.3 890.0 565.1 898.3 565.0C906.5 564.8 914.8 564.7 923.0 564.7C931.3 564.6 939.6 564.9 947.9 565.0C956.1 565.0 964.3 564.7 972.5 564.3C980.8 564.0 989.0 563.1 997.3 562.7C1004.3 562.3 1011.4 561.9 1018.5 562.0C1025.7 562.2 1032.8 562.7 1040.0 563.1C1049.0 563.5 1058.0 564.0 1067.0 564.4C1076.0 564.8 1085.0 565.1 1094.0 565.4C1103.0 565.6 1112.0 566.0 1121.0 566.2C1130.0 566.4 1139.0 566.6 1148.0 566.7C1151.9 566.7 1155.8 566.7 1159.7 566.7M825.7 590.9C833.4 591.0 841.1 591.2 848.8 591.4C855.5 591.5 862.2 592.1 868.9 592.2C873.7 592.3 878.5 590.8 883.2 589.4C888.0 588.0 892.8 584.5 897.6 582.8C903.4 580.8 909.1 578.2 914.9 578.2C920.4 578.2 925.8 578.5 931.3 578.8C936.8 579.2 942.4 579.7 947.9 580.0C956.1 580.5 964.3 580.9 972.5 580.8C978.0 580.8 983.5 579.9 989.0 579.2C994.5 578.5 1000.0 577.1 1005.5 576.5C1009.8 576.1 1014.2 575.9 1018.5 575.9C1023.4 575.9 1028.3 576.5 1033.2 577.2C1040.0 578.3 1046.7 581.5 1053.5 584.0C1060.2 586.5 1067.0 590.4 1073.7 592.1C1080.5 593.8 1087.2 594.8 1094.0 595.9C1100.7 597.0 1107.5 597.2 1114.2 598.6C1118.7 599.5 1123.2 602.4 1127.7 604.9C1132.2 607.5 1136.7 612.2 1141.2 614.4C1147.4 617.3 1153.5 619.9 1159.7 620.7M825.7 620.4C830.6 619.5 835.6 617.3 840.5 615.0C846.0 612.4 851.5 607.9 857.0 605.1C862.5 602.3 868.0 598.9 873.5 598.0C881.8 596.6 890.0 596.2 898.3 595.2C906.5 594.1 914.8 593.0 923.0 591.9C931.3 590.8 939.6 589.2 947.9 588.6C956.1 588.0 964.3 589.1 972.5 588.6C980.8 588.1 989.0 586.5 997.3 586.1C1004.3 585.8 1011.4 585.8 1018.5 585.6C1025.7 585.3 1032.8 585.0 1040.0 584.7C1046.7 584.3 1053.5 583.3 1060.2 582.9C1067.0 582.5 1073.7 582.8 1080.5 583.3C1087.2 583.9 1094.0 585.9 1100.7 587.4C1106.6 588.7 1112.4 591.5 1118.3 591.8C1123.7 592.1 1129.1 592.0 1134.5 591.8C1142.9 591.5 1151.3 591.2 1159.7 590.7M825.7 620.8C833.4 620.6 841.1 619.9 848.8 619.1C857.0 618.2 865.3 616.5 873.5 615.0C881.8 613.5 890.0 611.5 898.3 610.0C906.5 608.5 914.8 606.9 923.0 605.9C931.3 604.9 939.6 604.3 947.9 603.4C956.1 602.6 964.3 602.0 972.5 601.0C978.0 600.3 983.5 598.6 989.0 598.0C994.5 597.4 1000.0 596.8 1005.5 596.8C1009.8 596.9 1014.2 597.1 1018.5 597.1C1025.7 597.0 1032.8 596.9 1040.0 596.8C1049.0 596.7 1058.0 597.1 1067.0 597.5C1073.7 597.8 1080.5 600.1 1087.2 602.2C1094.0 604.3 1100.7 608.4 1107.5 611.0C1114.2 613.5 1121.0 616.5 1127.7 617.7C1134.5 619.0 1141.2 620.1 1148.0 620.4C1151.9 620.6 1155.8 620.8 1159.7 620.7M825.7 642.2C833.4 638.1 841.1 634.2 848.8 630.7C857.0 626.8 865.3 623.0 873.5 619.9C881.8 616.8 890.0 614.0 898.3 611.7C906.5 609.4 914.8 606.7 923.0 605.6C931.3 604.5 939.6 603.2 947.9 603.4C956.1 603.6 964.3 604.0 972.5 604.3C980.8 604.5 989.0 604.8 997.3 605.1C1004.3 605.3 1011.4 605.9 1018.5 606.1C1025.7 606.2 1032.8 604.4 1040.0 604.2C1049.0 604.0 1058.0 606.2 1067.0 608.0C1076.0 609.8 1085.0 613.2 1094.0 616.4C1103.0 619.6 1112.0 623.6 1121.0 627.2C1130.0 630.8 1139.0 634.6 1148.0 638.0C1151.9 639.4 1155.8 640.8 1159.7 642.0M825.7 642.5C833.4 639.2 841.1 635.9 848.8 633.1C857.0 630.1 865.3 627.1 873.5 624.9C881.8 622.6 890.0 620.8 898.3 619.1C906.5 617.4 914.8 615.3 923.0 614.5C931.3 613.7 939.6 613.5 947.9 612.8C956.1 612.2 964.3 611.7 972.5 610.9C980.8 610.0 989.0 608.2 997.3 607.6C1004.3 607.0 1011.4 606.7 1018.5 606.8C1025.7 606.9 1032.8 607.6 1040.0 608.3C1049.0 609.1 1058.0 610.7 1067.0 612.3C1076.0 614.0 1085.0 616.4 1094.0 619.1C1103.0 621.7 1112.0 625.4 1121.0 628.5C1130.0 631.7 1139.0 634.9 1148.0 638.0C1151.9 639.3 1155.8 640.7 1159.7 642.0M825.7 643.0C833.4 639.8 841.1 636.7 848.8 634.0C857.0 631.0 865.3 627.9 873.5 625.7C881.8 623.5 890.0 621.6 898.3 619.9C906.5 618.3 914.8 616.4 923.0 615.5C931.3 614.5 939.6 613.7 947.9 613.3C956.1 613.0 964.3 613.8 972.5 613.3C980.8 612.8 989.0 611.0 997.3 610.0C1004.3 609.2 1011.4 608.0 1018.5 607.8C1025.7 607.5 1032.8 608.8 1040.0 609.6C1049.0 610.7 1058.0 612.5 1067.0 614.4C1076.0 616.3 1085.0 619.0 1094.0 621.8C1103.0 624.6 1112.0 628.3 1121.0 631.2C1130.0 634.1 1139.0 637.0 1148.0 639.3C1151.9 640.3 1155.8 641.3 1159.7 642.0"/></g>
<rect x="825.7" y="455.6" width="334.0" height="192.0" fill="none" stroke="#000" stroke-width="3.0"/>
<line x1="89.7" y1="853.7" x2="423.7" y2="853.7" stroke="#111" stroke-width="2.2" stroke-dasharray="8.44 5.75"/>
<line x1="212.0" y1="667.0" x2="212.0" y2="859.0" stroke="#000" stroke-width="2.4"/>
<line x1="282.5" y1="667.0" x2="282.5" y2="859.0" stroke="#000" stroke-width="2.4"/>
<g clip-path="url(#k30)" fill="none" stroke="#8800cc" stroke-width="2.5" stroke-linejoin="round" stroke-linecap="round"><path d="M89.7 797.1C97.4 797.1 105.1 797.0 112.8 796.8C121.0 796.5 129.3 795.9 137.5 795.5C145.8 795.0 154.0 794.3 162.3 794.1C170.5 794.0 178.8 794.0 187.0 794.1C195.3 794.2 203.6 794.5 211.9 794.6C220.1 794.7 228.3 794.3 236.5 793.8C244.8 793.3 253.0 791.9 261.3 791.3C268.3 790.8 275.4 790.3 282.5 790.2M282.5 785.5C289.7 786.2 296.8 786.9 304.0 786.9C313.0 786.9 322.0 785.3 331.0 785.5C340.0 785.8 349.0 787.7 358.0 788.9C367.0 790.2 376.0 791.8 385.0 793.0C394.0 794.1 403.0 795.5 412.0 796.1C415.9 796.3 419.8 796.6 423.7 796.6M89.7 687.3C97.4 687.4 105.1 687.7 112.8 688.1C121.0 688.5 129.3 689.4 137.5 689.8C145.8 690.1 154.0 690.4 162.3 690.6C170.5 690.8 178.8 690.9 187.0 691.1C195.3 691.2 203.6 691.3 211.9 691.4C220.1 691.5 228.3 691.6 236.5 691.7C244.8 691.9 253.0 692.6 261.3 692.7C268.3 692.8 275.4 692.7 282.5 692.6C289.0 692.6 295.4 692.5 301.8 692.3C310.1 692.1 318.4 691.5 326.7 691.1C334.9 690.7 343.2 690.2 351.5 689.8C359.8 689.4 368.1 689.0 376.3 688.6C384.6 688.2 392.9 687.8 401.2 687.6C408.7 687.4 416.1 687.5 423.6 687.6M89.7 705.4C97.4 705.2 105.1 705.1 112.8 704.9C121.0 704.8 129.3 704.6 137.5 704.6C145.8 704.6 154.0 705.3 162.3 705.9C170.5 706.5 178.8 707.6 187.0 708.2C195.3 708.8 203.6 709.5 211.9 709.2C220.1 708.9 228.3 707.4 236.5 706.6C244.8 705.8 253.0 704.6 261.3 704.3C268.3 704.0 275.4 703.8 282.5 703.8C289.0 703.7 295.4 703.8 301.8 704.1C308.0 704.4 314.2 705.5 320.5 706.0C326.7 706.5 332.9 707.3 339.1 707.2C347.4 707.2 355.6 706.3 363.9 706.2C372.2 706.1 380.5 706.0 388.7 706.0C400.4 706.0 412.0 706.1 423.6 706.2M89.7 706.3C97.4 706.3 105.1 706.5 112.8 706.6C121.0 706.7 129.3 706.9 137.5 707.1C145.8 707.3 154.0 707.6 162.3 707.9C170.5 708.2 178.8 708.9 187.0 709.2C195.3 709.5 203.6 708.9 211.9 709.2C220.1 709.5 228.3 710.7 236.5 711.5C244.8 712.4 253.0 713.6 261.3 714.2C268.3 714.6 275.4 714.8 282.5 714.9C289.0 714.9 295.4 714.6 301.8 714.0C308.0 713.5 314.2 711.3 320.5 710.3C326.7 709.3 332.9 708.1 339.1 707.8C347.4 707.5 355.6 707.3 363.9 707.2C372.2 707.1 380.5 707.1 388.7 707.0C400.4 706.8 412.0 706.7 423.6 706.6M89.7 725.2C97.4 725.4 105.1 725.9 112.8 726.4C121.0 726.9 129.3 727.9 137.5 728.5C145.8 729.1 154.0 729.8 162.3 729.7C170.5 729.5 178.8 728.1 187.0 727.7C195.3 727.3 203.6 726.8 211.9 726.9C220.1 726.9 228.3 727.3 236.5 727.7C244.8 728.1 253.0 728.9 261.3 729.0C268.3 729.2 275.4 729.2 282.5 729.2C289.0 729.1 295.4 728.9 301.8 728.9C310.1 729.0 318.4 729.4 326.7 729.6C334.9 729.7 343.2 729.9 351.5 729.8C359.8 729.8 368.1 729.0 376.3 728.3C384.6 727.7 392.9 726.3 401.2 725.8C408.7 725.4 416.1 725.4 423.6 725.6M89.7 752.8C97.4 752.6 105.1 752.1 112.8 751.6C121.0 751.1 129.3 750.2 137.5 749.5C145.8 748.8 154.0 747.9 162.3 747.5C170.5 747.1 178.8 746.8 187.0 746.7C195.3 746.6 203.6 746.6 211.9 746.7C220.1 746.8 228.3 747.1 236.5 747.5C244.8 747.9 253.0 748.4 261.3 748.8C268.3 749.2 275.4 749.8 282.5 749.8C289.0 749.8 295.4 748.7 301.8 748.4C310.1 748.1 318.4 747.8 326.7 747.9C334.9 748.1 343.2 748.9 351.5 749.4C359.8 750.0 368.1 750.8 376.3 751.3C384.6 751.8 392.9 752.3 401.2 752.5C408.7 752.8 416.1 753.1 423.6 753.2M89.7 753.3C97.4 753.5 105.1 753.6 112.8 753.8C121.0 753.9 129.3 754.1 137.5 754.1C145.8 754.1 154.0 753.9 162.3 753.8C170.5 753.6 178.8 753.4 187.0 753.3C195.3 753.2 203.6 753.4 211.9 753.3C220.1 753.2 228.3 752.6 236.5 752.1C244.8 751.7 253.0 750.7 261.3 750.5C268.3 750.2 275.4 750.1 282.5 750.2C289.0 750.3 295.4 750.5 301.8 750.7C310.1 751.0 318.4 751.5 326.7 751.9C334.9 752.4 343.2 753.4 351.5 753.4C359.8 753.4 368.1 753.4 376.3 753.4C384.6 753.4 392.9 753.4 401.2 753.4C408.7 753.4 416.1 753.4 423.6 753.4M89.7 775.7C97.4 775.6 105.1 776.0 112.8 776.5C121.0 777.0 129.3 778.3 137.5 779.3C145.8 780.3 154.0 781.8 162.3 782.6C170.5 783.4 178.8 784.1 187.0 784.2C195.3 784.3 203.6 784.1 211.9 784.2C220.1 784.3 228.3 784.5 236.5 784.7C244.8 784.9 253.0 785.4 261.3 785.6C268.3 785.7 275.4 785.5 282.5 785.4C289.7 785.2 296.8 784.7 304.0 784.5C313.0 784.2 322.0 785.2 331.0 784.9C340.0 784.5 349.0 782.6 358.0 781.5C367.0 780.4 376.0 779.0 385.0 778.1C394.0 777.2 403.0 776.4 412.0 776.1C415.9 775.9 419.8 775.8 423.7 775.8M89.7 796.8C97.4 796.5 105.1 795.6 112.8 794.6C121.0 793.6 129.3 791.7 137.5 790.2C145.8 788.7 154.0 786.5 162.3 785.6C170.5 784.6 178.8 783.9 187.0 783.6C195.3 783.3 203.6 783.0 211.9 783.1C220.1 783.1 228.3 783.6 236.5 784.2C244.8 784.9 253.0 786.8 261.3 788.0C268.3 789.1 275.4 790.6 282.5 791.1C289.7 791.5 296.8 791.8 304.0 792.0C313.0 792.4 322.0 792.6 331.0 793.0C340.0 793.3 349.0 793.9 358.0 794.3C367.0 794.8 376.0 795.3 385.0 795.7C394.0 796.0 403.0 796.3 412.0 796.6C415.9 796.7 419.8 796.9 423.7 797.0M89.7 802.1C97.4 802.4 105.1 802.9 112.8 803.4C118.3 803.7 123.8 804.5 129.3 804.5C134.8 804.5 140.3 801.1 145.8 799.6C151.3 798.1 156.8 796.2 162.3 795.5C167.8 794.7 173.3 793.9 178.8 794.1C184.3 794.3 189.8 794.9 195.3 795.1C200.8 795.4 206.4 795.6 211.9 795.8C220.1 796.1 228.3 796.4 236.5 796.3C244.8 796.1 253.0 794.5 261.3 793.8C268.3 793.2 275.4 792.6 282.5 792.2C289.7 791.9 296.8 792.5 304.0 793.6C308.5 794.3 313.0 797.2 317.5 799.0C324.2 801.7 331.0 805.7 337.7 807.1C344.5 808.5 351.2 809.0 358.0 809.8C364.7 810.6 371.5 810.8 378.2 811.9C382.7 812.6 387.2 815.6 391.7 817.9C396.2 820.3 400.7 824.1 405.2 826.0C411.4 828.7 417.5 831.2 423.7 832.1M89.7 831.8C94.5 831.5 99.3 830.0 104.2 828.1C107.8 826.7 111.4 823.9 115.1 821.7C118.7 819.5 122.3 816.9 126.0 815.1C128.5 813.8 131.0 812.5 133.5 812.0C138.2 811.0 142.9 810.2 147.6 809.8C156.6 809.0 165.6 808.3 174.6 807.5C187.1 806.4 199.5 805.3 211.9 804.4C220.1 803.8 228.3 803.5 236.5 802.9C244.8 802.2 253.0 800.6 261.3 800.4C268.3 800.2 275.4 800.5 282.5 800.4C289.7 800.3 296.8 800.1 304.0 799.7C310.7 799.4 317.5 798.1 324.2 797.7C331.0 797.3 337.7 797.3 344.5 797.7C351.2 798.0 358.0 799.3 364.7 800.4C371.5 801.5 378.2 804.5 385.0 804.4C391.7 804.4 398.5 803.7 405.2 803.4C411.4 803.0 417.5 802.7 423.7 802.4M89.7 831.8C97.4 831.5 105.1 830.8 112.8 830.1C121.0 829.3 129.3 828.0 137.5 826.8C145.8 825.6 154.0 823.7 162.3 822.7C170.5 821.6 178.8 820.8 187.0 820.2C195.3 819.6 203.6 819.6 211.9 818.9C220.1 818.2 228.3 816.9 236.5 816.1C244.8 815.2 253.0 814.1 261.3 813.6C268.3 813.1 275.4 812.6 282.5 812.7C289.7 812.7 296.8 813.1 304.0 813.2C313.0 813.3 322.0 812.6 331.0 812.5C337.7 812.5 344.5 813.8 351.2 815.2C358.0 816.7 364.7 819.7 371.5 822.0C378.2 824.2 385.0 827.3 391.7 828.7C398.5 830.2 405.2 831.3 412.0 831.7C415.9 831.9 419.8 832.2 423.7 832.1M89.7 853.5C94.5 850.0 99.3 846.7 104.2 844.0C109.6 840.9 115.1 837.9 120.5 835.7C125.9 833.6 131.3 831.8 136.7 830.3C142.1 828.7 147.6 827.2 153.0 826.0C160.2 824.4 167.4 822.5 174.6 821.7C181.9 820.9 189.1 820.3 196.4 820.0C201.6 819.8 206.7 819.5 211.9 819.5C220.1 819.6 228.3 819.8 236.5 819.9C244.8 819.9 253.0 820.0 261.3 819.9C268.3 819.8 275.4 819.1 282.5 818.8C289.7 818.5 296.8 818.2 304.0 818.2C313.0 818.2 322.0 819.8 331.0 821.3C340.0 822.8 349.0 825.9 358.0 828.7C367.0 831.5 376.0 834.9 385.0 838.2C394.0 841.4 403.0 844.8 412.0 848.3C415.9 849.8 419.8 851.4 423.7 853.0M89.7 853.5C94.5 851.1 99.3 848.7 104.2 846.6C109.6 844.2 115.1 842.0 120.5 840.0C125.9 838.1 131.3 836.3 136.7 834.7C142.1 833.1 147.6 831.3 153.0 830.3C160.2 828.9 167.4 827.6 174.6 827.1C181.9 826.6 189.1 826.1 196.4 826.0C201.6 825.9 206.7 826.0 211.9 826.0C220.1 825.9 228.3 825.6 236.5 825.2C244.8 824.7 253.0 823.3 261.3 822.7C268.3 822.2 275.4 821.8 282.5 821.6C289.7 821.4 296.8 821.6 304.0 822.0C313.0 822.5 322.0 824.6 331.0 826.0C340.0 827.5 349.0 828.7 358.0 830.8C367.0 832.8 376.0 836.5 385.0 839.5C394.0 842.6 403.0 845.9 412.0 849.0C415.9 850.3 419.8 851.7 423.7 853.0M89.7 853.7C94.5 851.5 99.3 849.5 104.2 847.6C109.6 845.5 115.1 843.6 120.5 841.7C125.9 839.8 131.3 837.8 136.7 836.2C142.1 834.6 147.6 833.0 153.0 831.9C160.2 830.5 167.4 829.2 174.6 828.6C181.9 828.0 189.1 827.4 196.4 827.1C201.6 826.9 206.7 826.7 211.9 826.6C220.1 826.5 228.3 827.0 236.5 826.8C244.8 826.6 253.0 825.7 261.3 825.2C268.3 824.6 275.4 823.6 282.5 823.4C289.7 823.3 296.8 824.1 304.0 824.7C313.0 825.4 322.0 826.3 331.0 827.4C340.0 828.4 349.0 829.9 358.0 832.1C367.0 834.3 376.0 838.5 385.0 841.6C394.0 844.6 403.0 847.9 412.0 850.3C415.9 851.4 419.8 852.4 423.7 853.0"/></g>
<rect x="89.7" y="667.0" width="334.0" height="192.0" fill="none" stroke="#000" stroke-width="3.0"/>
<line x1="457.7" y1="853.7" x2="791.7" y2="853.7" stroke="#111" stroke-width="2.2" stroke-dasharray="8.44 5.75"/>
<line x1="580.0" y1="667.0" x2="580.0" y2="859.0" stroke="#000" stroke-width="2.4"/>
<line x1="650.5" y1="667.0" x2="650.5" y2="859.0" stroke="#000" stroke-width="2.4"/>
<g clip-path="url(#k31)" fill="none" stroke="#e00000" stroke-width="2.5" stroke-linejoin="round" stroke-linecap="round"><path d="M457.7 695.5C465.4 695.5 473.1 695.9 480.8 696.4C489.0 696.9 497.3 698.1 505.5 698.8C513.8 699.6 522.0 700.8 530.3 701.0C538.5 701.2 546.8 701.3 555.0 701.3C563.3 701.3 571.6 701.2 579.9 701.3C588.1 701.4 596.3 701.7 604.5 702.1C612.8 702.5 621.0 703.3 629.3 703.8C636.3 704.2 643.4 704.6 650.5 704.7C657.0 704.8 663.4 704.7 669.8 704.5C678.1 704.2 686.4 703.7 694.7 703.2C702.9 702.8 711.2 702.3 719.5 701.6C727.8 700.9 736.1 699.7 744.3 698.8C752.6 697.8 760.9 696.6 769.2 696.0C776.7 695.5 784.1 695.1 791.6 695.0M457.7 721.4C465.4 720.8 473.1 720.1 480.8 719.8C489.0 719.4 497.3 719.1 505.5 719.1C513.8 719.2 522.0 720.0 530.3 720.8C538.5 721.6 546.8 723.0 555.0 724.1C563.3 725.1 571.6 726.9 579.9 726.9C588.1 726.8 596.3 726.1 604.5 725.7C612.8 725.4 621.0 724.9 629.3 724.7C636.3 724.6 643.4 724.6 650.5 724.8C657.0 724.9 663.4 725.4 669.8 725.6C676.0 725.8 682.2 726.0 688.5 725.8C694.7 725.7 700.9 724.9 707.1 724.6C715.4 724.1 723.6 723.6 731.9 723.4C740.2 723.1 748.5 722.9 756.7 722.7C768.4 722.6 780.0 722.4 791.6 722.4M457.7 722.4C465.4 722.9 473.1 723.4 480.8 724.1C489.0 724.7 497.3 725.7 505.5 726.4C513.8 727.0 522.0 727.9 530.3 728.0C538.5 728.2 546.8 728.1 555.0 728.0C563.3 728.0 571.6 727.4 579.9 727.4C588.1 727.3 596.3 729.0 604.5 730.2C612.8 731.4 621.0 734.2 629.3 735.1C636.3 735.9 643.4 736.4 650.5 736.3C657.0 736.3 663.4 735.6 669.8 734.5C676.0 733.5 682.2 731.2 688.5 729.6C694.7 727.9 700.9 726.0 707.1 724.6C715.4 722.8 723.6 720.7 731.9 720.3C740.2 719.8 748.5 719.5 756.7 719.6C768.4 719.9 780.0 720.6 791.6 721.5M457.7 736.3C465.4 736.4 473.1 737.3 480.8 738.4C486.3 739.2 491.8 741.0 497.3 742.2C502.8 743.5 508.3 745.0 513.8 745.9C518.7 746.6 523.7 747.2 528.6 747.0C534.7 746.7 540.7 745.4 546.8 744.2C552.3 743.2 557.8 741.2 563.3 740.4C568.8 739.6 574.4 738.9 579.9 738.9C588.1 738.9 596.3 739.4 604.5 740.1C612.8 740.8 621.0 742.0 629.3 742.9C636.3 743.6 643.4 744.5 650.5 744.8C657.0 745.1 663.4 744.8 669.8 745.1C678.1 745.5 686.4 746.4 694.7 746.9C702.9 747.5 711.2 748.4 719.5 748.4C727.8 748.5 736.1 746.1 744.3 744.5C752.6 742.9 760.9 740.2 769.2 738.9C776.7 737.7 784.1 736.7 791.6 736.4M457.7 761.6C465.4 761.5 473.1 761.2 480.8 760.8C489.0 760.4 497.3 759.6 505.5 759.2C513.8 758.7 522.0 758.2 530.3 757.8C538.5 757.5 546.8 757.2 555.0 757.0C563.3 756.8 571.6 756.7 579.9 756.7C588.1 756.7 596.3 757.1 604.5 757.5C612.8 757.9 621.0 758.7 629.3 759.2C636.3 759.6 643.4 760.3 650.5 760.2C657.0 760.2 663.4 759.6 669.8 759.4C678.1 759.1 686.4 758.8 694.7 758.7C702.9 758.7 711.2 758.9 719.5 759.1C727.8 759.3 736.1 759.6 744.3 760.0C752.6 760.3 760.9 761.0 769.2 761.2C776.7 761.4 784.1 761.6 791.6 761.6M457.7 762.1C465.4 762.2 473.1 762.3 480.8 762.5C489.0 762.6 497.3 762.7 505.5 762.8C513.8 762.8 522.0 762.8 530.3 762.8C538.5 762.7 546.8 762.5 555.0 762.5C563.3 762.4 571.6 762.5 579.9 762.5C588.1 762.4 596.3 762.3 604.5 762.1C612.8 761.9 621.0 761.4 629.3 761.1C636.3 760.9 643.4 760.6 650.5 760.7C657.0 760.8 663.4 761.1 669.8 761.2C678.1 761.4 686.4 761.7 694.7 761.8C702.9 762.0 711.2 762.1 719.5 762.1C727.8 762.1 736.1 762.1 744.3 762.1C752.6 762.1 760.9 761.9 769.2 761.8C776.7 761.8 784.1 762.0 791.6 762.1M457.7 833.1C462.6 832.0 467.6 829.5 472.5 826.8C478.0 823.8 483.5 818.5 489.0 815.3C493.4 812.7 497.8 810.4 502.2 808.7C508.8 806.1 515.4 803.8 522.0 802.1C527.5 800.6 533.0 799.0 538.5 798.4C544.0 797.8 549.5 797.5 555.0 797.1C563.3 796.5 571.6 795.8 579.9 795.5C588.1 795.1 596.3 795.7 604.5 795.5C612.8 795.2 621.0 794.0 629.3 793.0C636.3 792.1 643.4 789.6 650.5 789.6C657.7 789.6 664.8 790.0 672.0 790.3C681.0 790.6 690.0 791.2 699.0 791.2C708.0 791.2 717.0 789.3 726.0 788.2C735.0 787.2 744.0 785.8 753.0 784.9C762.0 783.9 771.0 783.0 780.0 782.6C783.9 782.4 787.8 782.2 791.7 782.2M457.7 801.7C465.4 801.2 473.1 800.4 480.8 799.6C489.0 798.7 497.3 797.5 505.5 796.3C513.8 795.0 522.0 793.4 530.3 792.2C538.5 790.9 546.8 789.7 555.0 788.9C563.3 788.0 571.6 787.0 579.9 786.9C588.1 786.7 596.3 786.8 604.5 787.2C612.8 787.6 621.0 788.3 629.3 788.9C636.3 789.3 643.4 790.0 650.5 790.4C657.7 790.7 664.8 790.9 672.0 791.2C681.0 791.6 690.0 791.9 699.0 792.3C708.0 792.7 717.0 793.4 726.0 794.3C735.0 795.2 744.0 796.6 753.0 797.7C762.0 798.8 771.0 800.0 780.0 801.1C783.9 801.5 787.8 802.0 791.7 802.4M457.7 782.3C465.4 782.4 473.1 782.9 480.8 783.6C489.0 784.2 497.3 785.4 505.5 786.4C513.8 787.3 522.0 788.5 530.3 789.2C538.5 789.8 546.8 790.3 555.0 790.5C563.3 790.7 571.6 790.7 579.9 790.8C588.1 791.0 596.3 791.1 604.5 791.3C612.8 791.5 621.0 791.8 629.3 792.2C636.3 792.4 643.4 793.0 650.5 793.6C657.7 794.1 664.8 795.1 672.0 795.7C681.0 796.4 690.0 797.2 699.0 797.7C708.0 798.2 717.0 798.6 726.0 799.0C735.0 799.5 744.0 799.9 753.0 800.4C762.0 800.9 771.0 801.7 780.0 802.4C783.9 802.7 787.8 803.0 791.7 803.4M457.7 802.4C465.4 802.4 473.1 802.4 480.8 802.1C489.0 801.7 497.3 801.0 505.5 800.4C513.8 799.9 522.0 798.9 530.3 798.8C538.5 798.6 546.8 798.9 555.0 799.1C563.3 799.3 571.6 800.1 579.9 800.1C588.1 800.1 596.3 799.1 604.5 798.4C612.8 797.8 621.0 796.7 629.3 796.3C636.3 795.9 643.4 795.8 650.5 795.9C657.7 796.0 664.8 796.6 672.0 797.0C678.7 797.4 685.5 798.2 692.2 799.0C699.0 799.9 705.7 802.1 712.5 804.4C719.2 806.8 726.0 810.5 732.7 813.9C739.5 817.2 746.2 822.0 753.0 824.7C759.7 827.3 766.5 829.5 773.2 830.8C779.4 831.9 785.5 833.1 791.7 833.5M457.7 833.4C465.4 832.9 473.1 831.6 480.8 830.1C489.0 828.5 497.3 825.6 505.5 823.5C513.8 821.4 522.0 819.0 530.3 817.7C538.5 816.4 546.8 815.3 555.0 814.9C563.3 814.6 571.6 814.7 579.9 814.4C583.7 814.3 587.5 814.1 591.3 813.6C595.7 813.0 600.1 810.0 604.5 808.7C610.0 807.0 615.5 805.3 621.0 804.5C626.5 803.8 632.0 803.3 637.5 802.9C641.8 802.6 646.2 802.3 650.5 802.1C657.7 801.7 664.8 801.4 672.0 801.1C678.7 800.8 685.5 800.4 692.2 800.4C699.0 800.4 705.7 801.6 712.5 802.4C719.2 803.2 726.0 804.5 732.7 805.8C737.2 806.6 741.7 807.9 746.2 809.8C750.7 811.8 755.2 816.3 759.7 819.3C764.2 822.3 768.7 826.1 773.2 828.1C779.4 830.7 785.5 832.9 791.7 833.5M457.7 804.5C465.4 804.9 473.1 805.6 480.8 806.2C486.3 806.6 491.8 807.6 497.3 807.8C502.8 808.0 508.3 807.0 513.8 806.2C519.3 805.4 524.8 803.4 530.3 802.9C538.5 802.0 546.8 801.6 555.0 801.2C563.3 800.9 571.6 800.3 579.9 800.4C588.1 800.5 596.3 801.2 604.5 801.7C612.8 802.2 621.0 803.3 629.3 803.4C636.3 803.4 643.4 803.1 650.5 803.1C657.7 803.0 664.8 803.0 672.0 803.1C681.0 803.2 690.0 805.0 699.0 805.8C708.0 806.5 717.0 807.2 726.0 807.8C732.7 808.3 739.5 809.2 746.2 809.2C750.7 809.2 755.2 807.7 759.7 807.1C766.5 806.4 773.2 805.6 780.0 805.1C783.9 804.8 787.8 804.5 791.7 804.4M457.7 853.2C465.4 849.1 473.1 845.2 480.8 841.7C489.0 837.8 497.3 833.7 505.5 830.9C513.8 828.2 522.0 825.7 530.3 824.3C538.5 822.9 546.8 821.3 555.0 821.0C563.3 820.8 571.6 820.5 579.9 820.5C588.1 820.6 596.3 821.1 604.5 821.0C612.8 820.9 621.0 820.2 629.3 819.9C636.3 819.6 643.4 819.3 650.5 819.0C657.7 818.7 664.8 818.6 672.0 818.6C681.0 818.6 690.0 820.5 699.0 822.0C708.0 823.5 717.0 826.1 726.0 828.7C735.0 831.4 744.0 834.8 753.0 838.2C762.0 841.5 771.0 845.6 780.0 849.0C783.9 850.4 787.8 851.8 791.7 853.0M457.7 853.5C465.4 850.2 473.1 846.9 480.8 844.1C489.0 841.1 497.3 838.1 505.5 835.9C513.8 833.6 522.0 831.5 530.3 830.1C538.5 828.7 546.8 827.3 555.0 826.8C563.3 826.3 571.6 826.4 579.9 826.0C588.1 825.5 596.3 825.0 604.5 824.3C612.8 823.7 621.0 822.4 629.3 821.9C636.3 821.4 643.4 821.0 650.5 820.8C657.7 820.7 664.8 821.0 672.0 821.3C681.0 821.7 690.0 823.2 699.0 824.7C708.0 826.2 717.0 828.8 726.0 831.4C735.0 834.1 744.0 837.9 753.0 840.9C762.0 843.9 771.0 846.9 780.0 849.7C783.9 850.8 787.8 852.0 791.7 853.0M457.7 854.0C465.4 851.2 473.1 848.4 480.8 845.8C489.0 842.9 497.3 839.9 505.5 837.5C513.8 835.2 522.0 832.8 530.3 831.4C538.5 830.0 546.8 828.7 555.0 828.1C563.3 827.5 571.6 826.8 579.9 826.8C588.1 826.8 596.3 827.1 604.5 827.6C612.8 828.2 621.0 829.3 629.3 830.1C636.3 830.8 643.4 831.8 650.5 831.9C657.7 832.0 664.8 831.5 672.0 831.2C681.0 830.7 690.0 829.7 699.0 829.4C705.7 829.2 712.5 831.2 719.2 832.8C726.0 834.4 732.7 837.4 739.5 839.5C748.5 842.4 757.5 845.4 766.5 847.6C774.9 849.7 783.3 851.7 791.7 853.0"/></g>
<rect x="457.7" y="667.0" width="334.0" height="192.0" fill="none" stroke="#000" stroke-width="3.0"/>
<line x1="825.7" y1="853.7" x2="1159.7" y2="853.7" stroke="#111" stroke-width="2.2" stroke-dasharray="8.44 5.75"/>
<line x1="948.0" y1="667.0" x2="948.0" y2="859.0" stroke="#000" stroke-width="2.4"/>
<line x1="1018.5" y1="667.0" x2="1018.5" y2="859.0" stroke="#000" stroke-width="2.4"/>
<g clip-path="url(#k32)" fill="none" stroke="#0000d4" stroke-width="2.5" stroke-linejoin="round" stroke-linecap="round"><path d="M825.7 701.0C833.4 701.2 841.1 701.6 848.8 702.1C857.0 702.7 865.3 703.5 873.5 704.3C881.8 705.0 890.0 705.9 898.3 706.6C906.5 707.2 914.8 708.1 923.0 708.2C931.3 708.4 939.6 708.1 947.9 708.2C956.1 708.3 964.3 708.5 972.5 708.7C980.8 708.9 989.0 709.3 997.3 709.6C1004.3 709.8 1011.4 710.0 1018.5 710.1C1025.0 710.2 1031.4 710.1 1037.8 709.9C1046.1 709.7 1054.4 708.6 1062.7 707.8C1070.9 707.1 1079.2 706.2 1087.5 705.4C1095.8 704.5 1104.1 703.5 1112.3 702.9C1120.6 702.3 1128.9 701.8 1137.2 701.6C1144.7 701.5 1152.1 701.3 1159.6 701.3M825.7 735.6C833.4 735.4 841.1 735.2 848.8 735.1C857.0 735.0 865.3 735.0 873.5 735.1C881.8 735.2 890.0 736.1 898.3 736.8C906.5 737.5 914.8 738.9 923.0 739.6C931.3 740.3 939.6 741.0 947.9 741.2C956.1 741.5 964.3 741.5 972.5 741.7C980.8 742.0 989.0 742.3 997.3 742.6C1004.3 742.7 1011.4 742.8 1018.5 742.9C1025.0 743.0 1031.4 743.4 1037.8 743.5C1046.1 743.5 1054.4 742.0 1062.7 741.0C1070.9 739.9 1079.2 737.8 1087.5 737.0C1095.8 736.2 1104.1 735.5 1112.3 735.5C1120.6 735.6 1128.9 735.7 1137.2 735.8C1144.7 735.9 1152.1 735.9 1159.6 736.0M825.7 736.3C833.4 736.4 841.1 736.8 848.8 737.3C857.0 737.7 865.3 738.5 873.5 739.3C881.8 740.0 890.0 740.9 898.3 741.7C906.5 742.6 914.8 743.6 923.0 744.2C931.3 744.8 939.6 745.4 947.9 745.5C956.1 745.7 964.3 745.3 972.5 745.5C980.8 745.8 989.0 746.3 997.3 746.7C1004.3 747.0 1011.4 747.4 1018.5 747.5C1025.0 747.7 1031.4 747.0 1037.8 746.3C1046.1 745.5 1054.4 743.6 1062.7 742.6C1070.9 741.6 1079.2 740.8 1087.5 740.1C1095.8 739.4 1104.1 738.7 1112.3 738.3C1120.6 737.8 1128.9 737.5 1137.2 737.3C1144.7 737.1 1152.1 736.8 1159.6 736.8M825.7 745.5C833.4 745.5 841.1 746.0 848.8 746.7C857.0 747.4 865.3 749.3 873.5 750.5C881.8 751.6 890.0 753.1 898.3 753.8C903.8 754.2 909.3 754.4 914.8 754.1C920.3 753.8 925.9 752.4 931.4 752.1C936.9 751.8 942.4 751.6 947.9 751.6C956.1 751.7 964.3 751.8 972.5 752.1C980.8 752.4 989.0 752.9 997.3 753.3C1004.3 753.6 1011.4 753.9 1018.5 754.1C1025.0 754.3 1031.4 754.3 1037.8 754.4C1046.1 754.6 1054.4 755.2 1062.7 755.4C1070.9 755.5 1079.2 754.6 1087.5 753.8C1095.8 752.9 1104.1 751.2 1112.3 750.1C1120.6 748.9 1128.9 747.3 1137.2 746.7C1144.7 746.1 1152.1 745.9 1159.6 746.0M825.7 770.7C833.4 770.7 841.1 770.6 848.8 770.4C857.0 770.1 865.3 769.5 873.5 769.1C881.8 768.6 890.0 767.9 898.3 767.4C906.5 766.9 914.8 766.3 923.0 766.1C931.3 765.8 939.6 765.7 947.9 765.8C956.1 765.8 964.3 766.2 972.5 766.6C980.8 767.0 989.0 767.8 997.3 768.2C1004.3 768.6 1011.4 769.1 1018.5 769.2C1025.7 769.2 1032.8 768.9 1040.0 768.7C1049.0 768.4 1058.0 767.3 1067.0 767.3C1076.0 767.3 1085.0 768.8 1094.0 769.3C1103.0 769.9 1112.0 770.6 1121.0 770.7C1130.0 770.8 1139.0 770.9 1148.0 771.0C1151.9 771.0 1155.8 771.0 1159.7 771.0M825.7 771.2C833.4 771.3 841.1 771.4 848.8 771.5C857.0 771.7 865.3 771.9 873.5 772.0C881.8 772.2 890.0 772.4 898.3 772.4C906.5 772.4 914.8 772.4 923.0 772.4C931.3 772.4 939.6 772.4 947.9 772.4C956.1 772.4 964.3 771.9 972.5 771.5C980.8 771.2 989.0 770.7 997.3 770.4C1004.3 770.1 1011.4 769.8 1018.5 769.7C1025.7 769.7 1032.8 769.8 1040.0 770.0C1049.0 770.3 1058.0 771.1 1067.0 771.4C1076.0 771.7 1085.0 772.1 1094.0 772.0C1103.0 772.0 1112.0 771.9 1121.0 771.8C1130.0 771.7 1139.0 771.4 1148.0 771.4C1151.9 771.3 1155.8 771.3 1159.7 771.4M826.1 807.0C835.8 805.9 845.5 805.0 855.2 804.0C862.1 803.4 869.0 803.3 876.0 802.4C881.2 801.7 886.4 799.4 891.7 798.1C895.1 797.2 898.6 796.5 902.0 795.6C907.3 794.3 912.5 791.9 917.7 791.5C927.8 790.7 937.9 790.5 947.9 790.3C956.1 790.2 964.3 790.4 972.5 790.2C980.8 789.9 989.0 787.8 997.3 787.4C1004.3 787.0 1011.4 786.9 1018.5 787.1C1023.4 787.1 1028.3 787.6 1033.2 788.2C1040.0 789.1 1046.7 792.4 1053.5 793.6C1060.2 794.9 1067.0 795.2 1073.7 796.3C1080.5 797.5 1087.2 799.2 1094.0 800.4C1103.0 801.9 1112.0 803.4 1121.0 804.4C1130.0 805.5 1139.0 806.7 1148.0 807.1C1151.9 807.3 1155.8 807.5 1159.7 807.4M826.1 788.4C835.8 789.2 845.5 790.1 855.2 791.0C862.2 791.6 869.2 792.3 876.1 793.0C883.1 793.7 890.0 794.4 896.9 795.1C903.9 795.8 910.8 796.4 917.7 797.1C924.7 797.8 931.6 798.6 938.5 799.2C941.6 799.5 944.8 799.9 947.9 799.9C956.1 800.0 964.3 798.9 972.5 798.1C980.8 797.3 989.0 795.3 997.3 794.8C1004.3 794.4 1011.4 794.2 1018.5 794.5C1025.7 794.7 1032.8 795.4 1040.0 795.7C1046.7 795.9 1053.5 796.1 1060.2 796.1C1067.0 796.0 1073.7 795.5 1080.5 795.0C1089.5 794.3 1098.5 792.6 1107.5 791.6C1116.5 790.6 1125.5 789.4 1134.5 788.9C1142.9 788.5 1151.3 788.2 1159.7 788.2M826.1 807.3C836.4 807.4 846.7 807.0 857.0 806.7C863.3 806.5 869.7 806.0 876.0 805.4C883.0 804.6 889.9 800.4 896.9 799.7C903.9 799.1 910.8 798.5 917.7 798.8C924.7 799.0 931.6 799.4 938.5 799.7C941.6 799.9 944.8 800.1 947.9 800.2C956.1 800.5 964.3 800.5 972.5 800.7C980.8 801.0 989.0 801.4 997.3 801.7C1004.3 802.0 1011.4 802.7 1018.5 802.7C1025.7 802.6 1032.8 801.1 1040.0 800.4C1044.5 799.9 1049.0 799.1 1053.5 799.0C1058.0 798.9 1062.5 799.8 1067.0 800.4C1071.5 801.0 1076.0 801.9 1080.5 802.4C1087.2 803.2 1094.0 803.8 1100.7 804.4C1107.5 805.1 1114.2 806.2 1121.0 806.5C1130.0 806.9 1139.0 807.1 1148.0 807.1C1151.9 807.2 1155.8 807.2 1159.7 807.1M826.1 834.1C832.6 833.3 839.1 830.7 845.6 827.6C849.2 825.9 852.9 822.3 856.5 820.0C860.1 817.8 863.8 815.5 867.4 814.1C869.2 813.4 870.9 812.7 872.7 812.4C878.1 811.5 883.6 810.8 889.0 810.3C896.2 809.7 903.4 809.0 910.6 808.7C917.9 808.3 925.1 808.1 932.4 807.8C937.6 807.7 942.7 807.5 947.9 807.3C956.1 807.1 964.3 806.9 972.5 806.7C980.8 806.4 989.0 806.1 997.3 805.8C1004.3 805.7 1011.4 805.8 1018.5 805.7C1025.7 805.4 1032.8 804.8 1040.0 804.4C1046.7 804.1 1053.5 803.9 1060.2 803.8C1067.0 803.7 1073.7 804.1 1080.5 804.4C1087.2 804.8 1094.0 806.1 1100.7 807.1C1105.2 807.8 1109.7 809.8 1114.2 809.8C1121.0 809.9 1127.7 809.5 1134.5 809.2C1142.9 808.7 1151.3 808.3 1159.7 807.8M826.1 807.8C833.7 808.2 841.2 808.6 848.8 809.0C854.4 809.3 860.0 809.8 865.6 810.0C871.0 810.1 876.4 809.5 881.8 809.0C886.8 808.5 891.9 807.4 896.9 807.0C903.9 806.4 910.8 805.9 917.7 805.7C927.8 805.4 937.9 804.9 947.9 805.0C956.1 805.1 964.3 805.4 972.5 805.7C980.8 806.0 989.0 806.4 997.3 806.7C1004.3 806.9 1011.4 807.0 1018.5 807.2C1025.7 807.3 1032.8 807.3 1040.0 807.4C1049.0 807.6 1058.0 808.3 1067.0 809.2C1073.7 809.8 1080.5 811.8 1087.2 813.9C1094.0 815.9 1100.7 819.5 1107.5 822.0C1114.2 824.4 1121.0 826.9 1127.7 828.7C1134.5 830.6 1141.2 832.7 1148.0 833.5C1151.9 833.9 1155.8 834.2 1159.7 834.1M826.1 834.6C832.6 834.1 839.1 833.1 845.6 832.1C852.9 831.0 860.1 829.3 867.4 827.6C874.6 825.9 881.8 823.6 889.0 821.7C896.2 819.8 903.4 817.6 910.6 816.2C917.9 814.8 925.1 813.4 932.4 812.9C937.6 812.6 942.7 812.8 947.9 812.4C953.4 812.1 958.8 811.6 964.3 811.1C969.8 810.6 975.3 809.9 980.8 809.5C986.3 809.1 991.8 808.8 997.3 808.7C1004.3 808.5 1011.4 808.4 1018.5 808.3C1025.7 808.2 1032.8 808.3 1040.0 808.5C1046.7 808.7 1053.5 810.6 1060.2 811.2C1067.0 811.7 1073.7 812.1 1080.5 812.5C1087.2 813.0 1094.0 813.4 1100.7 813.9C1105.2 814.2 1109.7 814.1 1114.2 814.6C1118.7 815.0 1123.2 819.4 1127.7 822.0C1132.2 824.6 1136.7 828.4 1141.2 830.1C1147.4 832.4 1153.5 834.0 1159.7 834.1M826.1 853.0C830.8 850.2 835.5 847.5 840.2 845.4C845.6 843.0 851.1 841.0 856.5 839.0C861.9 837.1 867.3 835.3 872.7 833.6C878.1 831.8 883.6 830.1 889.0 828.6C896.2 826.7 903.4 824.6 910.6 823.3C917.9 822.1 925.1 820.9 932.4 820.5C937.6 820.3 942.7 819.9 947.9 820.0C956.1 820.2 964.3 821.2 972.5 821.2C980.8 821.1 989.0 820.4 997.3 820.2C1004.3 820.0 1011.4 820.0 1018.5 820.1C1025.7 820.1 1032.8 820.7 1040.0 821.3C1049.0 822.1 1058.0 824.2 1067.0 826.0C1076.0 827.9 1085.0 830.3 1094.0 832.8C1103.0 835.2 1112.0 838.1 1121.0 840.9C1130.0 843.7 1139.0 846.9 1148.0 849.7C1151.9 850.8 1155.8 852.0 1159.7 853.0M826.1 853.5C830.8 851.4 835.5 849.4 840.2 847.6C845.6 845.5 851.1 843.4 856.5 841.7C861.9 839.9 867.3 838.4 872.7 836.9C878.1 835.3 883.6 833.7 889.0 832.4C896.2 830.7 903.4 829.1 910.6 828.1C917.9 827.2 925.1 826.2 932.4 826.0C937.6 825.8 942.7 826.0 947.9 825.8C956.1 825.5 964.3 824.9 972.5 824.3C980.8 823.7 989.0 822.6 997.3 822.2C1004.3 821.8 1011.4 821.6 1018.5 821.6C1025.7 821.6 1032.8 822.1 1040.0 822.7C1049.0 823.3 1058.0 825.4 1067.0 827.4C1076.0 829.3 1085.0 832.2 1094.0 834.8C1103.0 837.4 1112.0 840.3 1121.0 842.9C1130.0 845.5 1139.0 848.1 1148.0 850.3C1151.9 851.3 1155.8 852.2 1159.7 853.0M826.1 854.0C830.8 852.2 835.5 850.5 840.2 848.7C845.6 846.7 851.1 844.6 856.5 842.8C861.9 841.0 867.3 839.4 872.7 837.9C878.1 836.3 883.6 834.7 889.0 833.6C896.2 832.1 903.4 830.6 910.6 829.8C917.9 828.9 925.1 828.0 932.4 827.6C937.6 827.4 942.7 827.2 947.9 827.1C956.1 827.1 964.3 827.9 972.5 827.8C980.8 827.6 989.0 826.1 997.3 825.2C1004.3 824.4 1011.4 823.2 1018.5 822.7C1025.7 822.3 1032.8 823.2 1040.0 824.0C1049.0 825.0 1058.0 827.3 1067.0 829.4C1076.0 831.5 1085.0 834.2 1094.0 836.8C1103.0 839.4 1112.0 842.6 1121.0 844.9C1130.0 847.3 1139.0 849.3 1148.0 851.0C1151.9 851.8 1155.8 852.5 1159.7 853.0"/></g>
<rect x="825.7" y="667.0" width="334.0" height="192.0" fill="none" stroke="#000" stroke-width="3.0"/>
<text x="78.2" y="226.8" text-anchor="end" font-size="22.0">0</text>
<text x="78.2" y="200.1" text-anchor="end" font-size="22.0">100</text>
<text x="78.2" y="173.4" text-anchor="end" font-size="22.0">200</text>
<text x="78.2" y="146.8" text-anchor="end" font-size="22.0">300</text>
<text x="78.2" y="120.1" text-anchor="end" font-size="22.0">400</text>
<text x="78.2" y="93.4" text-anchor="end" font-size="22.0">500</text>
<text x="78.2" y="66.8" text-anchor="end" font-size="22.0">600</text>
<text x="78.2" y="40.1" text-anchor="end" font-size="22.0">700</text>
<text transform="translate(27.2 207.8) rotate(-90)" font-size="23.2">Frequency (cm<tspan dy="-14" font-size="14.5">-1</tspan><tspan dy="14" dx="1.5">)</tspan></text>
<text x="78.2" y="438.5" text-anchor="end" font-size="22.0">0</text>
<text x="78.2" y="411.9" text-anchor="end" font-size="22.0">100</text>
<text x="78.2" y="385.2" text-anchor="end" font-size="22.0">200</text>
<text x="78.2" y="358.5" text-anchor="end" font-size="22.0">300</text>
<text x="78.2" y="331.9" text-anchor="end" font-size="22.0">400</text>
<text x="78.2" y="305.2" text-anchor="end" font-size="22.0">500</text>
<text x="78.2" y="278.5" text-anchor="end" font-size="22.0">600</text>
<text x="78.2" y="251.8" text-anchor="end" font-size="22.0">700</text>
<text transform="translate(27.2 419.5) rotate(-90)" font-size="23.2">Frequency (cm<tspan dy="-14" font-size="14.5">-1</tspan><tspan dy="14" dx="1.5">)</tspan></text>
<text x="78.2" y="650.3" text-anchor="end" font-size="22.0">0</text>
<text x="78.2" y="623.6" text-anchor="end" font-size="22.0">100</text>
<text x="78.2" y="596.9" text-anchor="end" font-size="22.0">200</text>
<text x="78.2" y="570.3" text-anchor="end" font-size="22.0">300</text>
<text x="78.2" y="543.6" text-anchor="end" font-size="22.0">400</text>
<text x="78.2" y="516.9" text-anchor="end" font-size="22.0">500</text>
<text x="78.2" y="490.3" text-anchor="end" font-size="22.0">600</text>
<text x="78.2" y="463.6" text-anchor="end" font-size="22.0">700</text>
<text transform="translate(27.2 631.3) rotate(-90)" font-size="23.2">Frequency (cm<tspan dy="-14" font-size="14.5">-1</tspan><tspan dy="14" dx="1.5">)</tspan></text>
<text x="78.2" y="861.7" text-anchor="end" font-size="22.0">0</text>
<text x="78.2" y="835.0" text-anchor="end" font-size="22.0">100</text>
<text x="78.2" y="808.3" text-anchor="end" font-size="22.0">200</text>
<text x="78.2" y="781.7" text-anchor="end" font-size="22.0">300</text>
<text x="78.2" y="755.0" text-anchor="end" font-size="22.0">400</text>
<text x="78.2" y="728.3" text-anchor="end" font-size="22.0">500</text>
<text x="78.2" y="701.7" text-anchor="end" font-size="22.0">600</text>
<text x="78.2" y="675.0" text-anchor="end" font-size="22.0">700</text>
<text transform="translate(27.2 842.7) rotate(-90)" font-size="23.2">Frequency (cm<tspan dy="-14" font-size="14.5">-1</tspan><tspan dy="14" dx="1.5">)</tspan></text>
<text transform="translate(1187 128.1) rotate(-90)" text-anchor="middle" font-size="23">SMoSiP<tspan dy="8.5" font-size="14.5">2</tspan></text>
<text transform="translate(1187 339.9) rotate(-90)" text-anchor="middle" font-size="23">SeMoSiP<tspan dy="8.5" font-size="14.5">2</tspan></text>
<text transform="translate(1187 551.6) rotate(-90)" text-anchor="middle" font-size="23">SWSiP<tspan dy="8.5" font-size="14.5">2</tspan></text>
<text transform="translate(1187 763.0) rotate(-90)" text-anchor="middle" font-size="23">SeWSP<tspan dy="8.5" font-size="14.5">2</tspan></text>
<text x="256.7" y="19" text-anchor="middle" font-size="26">-6%</text>
<text x="624.7" y="19" text-anchor="middle" font-size="26">0%</text>
<text x="992.7" y="19" text-anchor="middle" font-size="26">6%</text>
<text x="89.7" y="885.8" text-anchor="middle" font-size="24">&#915;</text>
<text x="212.0" y="885.8" text-anchor="middle" font-size="24">M</text>
<text x="282.5" y="885.8" text-anchor="middle" font-size="24">K</text>
<text x="423.7" y="885.8" text-anchor="middle" font-size="24">&#915;</text>
<text x="457.7" y="885.8" text-anchor="middle" font-size="24">&#915;</text>
<text x="580.0" y="885.8" text-anchor="middle" font-size="24">M</text>
<text x="650.5" y="885.8" text-anchor="middle" font-size="24">K</text>
<text x="791.7" y="885.8" text-anchor="middle" font-size="24">&#915;</text>
<text x="825.7" y="885.8" text-anchor="middle" font-size="24">&#915;</text>
<text x="948.0" y="885.8" text-anchor="middle" font-size="24">M</text>
<text x="1018.5" y="885.8" text-anchor="middle" font-size="24">K</text>
<text x="1159.7" y="885.8" text-anchor="middle" font-size="24">&#915;</text>
</g>
</svg>
</body></html>
